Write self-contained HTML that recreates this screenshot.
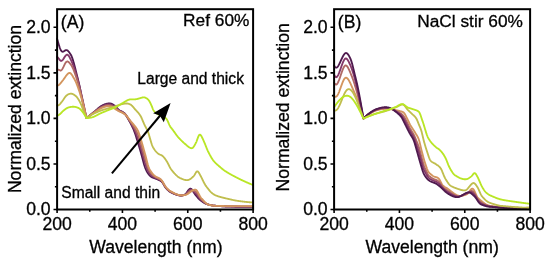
<!DOCTYPE html><html><head><meta charset="utf-8"><style>html,body{margin:0;padding:0;background:#fff;width:550px;height:262px;overflow:hidden}svg{display:block;will-change:transform}text{font-family:"Liberation Sans",sans-serif;fill:#000;stroke:#000;stroke-width:0.3}</style></head><body>
<svg width="550" height="262" viewBox="0 0 550 262">
<g fill="none" stroke-width="1.85" stroke-linejoin="round" stroke-linecap="round">
<path stroke="#4f1a4e" d="M57.10,38.69 L57.43,39.96 L57.75,41.11 L58.08,42.24 L58.41,43.34 L58.73,44.42 L59.06,45.48 L59.39,46.51 L59.71,47.50 L60.04,48.42 L60.37,49.21 L60.69,49.88 L61.02,50.42 L61.35,50.86 L61.67,51.21 L62.00,51.48 L62.33,51.66 L62.65,51.73 L62.98,51.70 L63.31,51.61 L63.63,51.45 L63.96,51.26 L64.29,51.04 L64.61,50.82 L64.94,50.60 L65.27,50.41 L65.59,50.25 L65.92,50.15 L66.25,50.11 L66.57,50.13 L66.90,50.22 L67.23,50.37 L67.55,50.58 L67.88,50.84 L68.21,51.15 L68.53,51.50 L68.86,51.88 L69.19,52.29 L69.51,52.73 L69.84,53.19 L70.17,53.66 L70.49,54.16 L70.82,54.69 L71.15,55.30 L71.47,55.98 L71.80,56.77 L72.13,57.64 L72.45,58.58 L72.78,59.57 L73.11,60.61 L73.43,61.68 L73.76,62.80 L74.09,63.96 L74.41,65.17 L74.74,66.43 L75.07,67.74 L75.39,69.07 L75.72,70.41 L76.05,71.74 L76.37,73.07 L76.70,74.38 L77.03,75.67 L77.35,76.96 L77.68,78.25 L78.01,79.55 L78.33,80.87 L78.66,82.22 L78.99,83.61 L79.31,85.05 L79.64,86.55 L79.97,88.11 L80.29,89.74 L80.62,91.40 L80.95,93.09 L81.27,94.77 L81.60,96.44 L81.93,98.09 L82.25,99.71 L82.58,101.31 L82.91,102.90 L83.23,104.47 L83.56,106.00 L83.89,107.50 L84.21,108.95 L84.54,110.36 L84.87,111.74 L85.19,113.08 L85.52,114.38 L85.85,115.64 L86.17,116.84 L86.50,118.07 L86.83,117.79 L87.15,117.53 L87.48,117.27 L87.81,117.01 L88.13,116.74 L88.46,116.47 L88.79,116.21 L89.11,115.94 L89.44,115.68 L89.77,115.41 L90.09,115.15 L90.42,114.88 L90.75,114.62 L91.07,114.35 L91.40,114.09 L91.73,113.82 L92.05,113.56 L92.38,113.29 L92.71,113.03 L93.03,112.76 L93.36,112.50 L93.69,112.23 L94.01,111.97 L94.34,111.70 L94.67,111.43 L94.99,111.16 L95.32,110.88 L95.65,110.59 L95.97,110.31 L96.30,110.02 L96.63,109.73 L96.95,109.44 L97.28,109.16 L97.61,108.87 L97.93,108.58 L98.26,108.30 L98.59,108.03 L98.91,107.76 L99.24,107.49 L99.57,107.24 L99.89,106.99 L100.22,106.75 L100.55,106.52 L100.87,106.30 L101.20,106.09 L101.53,105.89 L101.85,105.71 L102.18,105.53 L102.51,105.36 L102.83,105.20 L103.16,105.04 L103.49,104.89 L103.81,104.75 L104.14,104.61 L104.47,104.48 L104.79,104.35 L105.12,104.23 L105.45,104.12 L105.77,104.02 L106.10,103.92 L106.43,103.84 L106.75,103.76 L107.08,103.69 L107.41,103.63 L107.73,103.57 L108.06,103.53 L108.39,103.49 L108.71,103.47 L109.04,103.45 L109.37,103.45 L109.69,103.45 L110.02,103.47 L110.35,103.51 L110.67,103.56 L111.00,103.64 L111.33,103.74 L111.65,103.86 L111.98,104.00 L112.31,104.16 L112.63,104.33 L112.96,104.52 L113.29,104.72 L113.61,104.93 L113.94,105.15 L114.27,105.37 L114.59,105.61 L114.92,105.86 L115.25,106.13 L115.57,106.43 L115.90,106.75 L116.23,107.09 L116.55,107.45 L116.88,107.81 L117.21,108.18 L117.53,108.54 L117.86,108.88 L118.19,109.21 L118.51,109.52 L118.84,109.80 L119.17,110.05 L119.49,110.28 L119.82,110.50 L120.15,110.69 L120.47,110.87 L120.80,111.04 L121.13,111.20 L121.45,111.36 L121.78,111.52 L122.11,111.68 L122.43,111.85 L122.76,112.03 L123.09,112.23 L123.41,112.44 L123.74,112.67 L124.07,112.92 L124.39,113.21 L124.72,113.52 L125.05,113.88 L125.37,114.28 L125.70,114.72 L126.03,115.20 L126.35,115.71 L126.68,116.24 L127.01,116.80 L127.33,117.38 L127.66,117.98 L127.99,118.58 L128.31,119.18 L128.64,119.78 L128.97,120.38 L129.29,120.97 L129.62,121.56 L129.95,122.16 L130.27,122.75 L130.60,123.36 L130.93,123.98 L131.25,124.60 L131.58,125.25 L131.91,125.90 L132.23,126.58 L132.56,127.27 L132.89,127.98 L133.21,128.71 L133.54,129.46 L133.87,130.25 L134.19,131.08 L134.52,131.95 L134.85,132.87 L135.17,133.82 L135.50,134.80 L135.83,135.81 L136.15,136.84 L136.48,137.89 L136.81,138.94 L137.13,140.00 L137.46,141.06 L137.79,142.12 L138.11,143.19 L138.44,144.27 L138.77,145.37 L139.09,146.47 L139.42,147.58 L139.75,148.70 L140.07,149.83 L140.40,150.96 L140.73,152.10 L141.05,153.23 L141.38,154.38 L141.71,155.55 L142.03,156.75 L142.36,157.99 L142.69,159.24 L143.01,160.50 L143.34,161.76 L143.67,162.98 L143.99,164.17 L144.32,165.29 L144.65,166.33 L144.97,167.29 L145.30,168.16 L145.63,168.95 L145.95,169.68 L146.28,170.37 L146.61,171.01 L146.93,171.62 L147.26,172.19 L147.59,172.73 L147.91,173.23 L148.24,173.69 L148.57,174.12 L148.89,174.53 L149.22,174.91 L149.55,175.28 L149.87,175.63 L150.20,175.97 L150.53,176.28 L150.85,176.56 L151.18,176.80 L151.51,177.01 L151.83,177.19 L152.16,177.35 L152.49,177.49 L152.81,177.63 L153.14,177.76 L153.47,177.88 L153.79,178.00 L154.12,178.12 L154.45,178.24 L154.77,178.36 L155.10,178.48 L155.43,178.60 L155.75,178.72 L156.08,178.84 L156.41,178.97 L156.73,179.11 L157.06,179.24 L157.39,179.38 L157.71,179.51 L158.04,179.65 L158.37,179.79 L158.69,179.93 L159.02,180.07 L159.35,180.22 L159.67,180.38 L160.00,180.55 L160.33,180.73 L160.65,180.92 L160.98,181.13 L161.31,181.37 L161.63,181.66 L161.96,181.99 L162.29,182.39 L162.61,182.83 L162.94,183.33 L163.27,183.85 L163.59,184.41 L163.92,184.97 L164.25,185.53 L164.57,186.09 L164.90,186.62 L165.23,187.13 L165.55,187.59 L165.88,188.01 L166.21,188.39 L166.53,188.75 L166.86,189.10 L167.19,189.43 L167.51,189.76 L167.84,190.07 L168.17,190.37 L168.49,190.66 L168.82,190.94 L169.15,191.20 L169.47,191.44 L169.80,191.67 L170.13,191.88 L170.45,192.07 L170.78,192.26 L171.11,192.43 L171.43,192.61 L171.76,192.77 L172.09,192.94 L172.41,193.10 L172.74,193.26 L173.07,193.41 L173.39,193.56 L173.72,193.71 L174.05,193.85 L174.37,193.99 L174.70,194.12 L175.03,194.24 L175.35,194.36 L175.68,194.47 L176.01,194.58 L176.33,194.68 L176.66,194.78 L176.99,194.88 L177.31,194.97 L177.64,195.06 L177.97,195.14 L178.29,195.22 L178.62,195.30 L178.95,195.38 L179.27,195.44 L179.60,195.50 L179.93,195.55 L180.25,195.60 L180.58,195.62 L180.91,195.64 L181.23,195.63 L181.56,195.60 L181.89,195.54 L182.21,195.48 L182.54,195.39 L182.87,195.30 L183.19,195.19 L183.52,195.08 L183.85,194.97 L184.17,194.84 L184.50,194.70 L184.83,194.52 L185.15,194.29 L185.48,194.00 L185.81,193.67 L186.13,193.29 L186.46,192.87 L186.79,192.44 L187.11,191.98 L187.44,191.52 L187.77,191.06 L188.09,190.61 L188.42,190.19 L188.75,189.80 L189.07,189.45 L189.40,189.16 L189.73,188.92 L190.05,188.76 L190.38,188.68 L190.71,188.69 L191.03,188.79 L191.36,189.00 L191.69,189.31 L192.01,189.69 L192.34,190.14 L192.67,190.64 L192.99,191.17 L193.32,191.73 L193.65,192.28 L193.97,192.82 L194.30,193.33 L194.63,193.81 L194.95,194.25 L195.28,194.66 L195.61,195.06 L195.93,195.45 L196.26,195.85 L196.59,196.24 L196.91,196.63 L197.24,197.02 L197.57,197.40 L197.89,197.78 L198.22,198.14 L198.55,198.50 L198.87,198.85 L199.20,199.18 L199.53,199.50 L199.85,199.81 L200.18,200.10 L200.51,200.37 L200.83,200.62 L201.16,200.87 L201.49,201.10 L201.81,201.33 L202.14,201.56 L202.47,201.78 L202.79,202.00 L203.12,202.22 L203.45,202.42 L203.77,202.62 L204.10,202.82 L204.43,203.00 L204.75,203.18 L205.08,203.35 L205.41,203.51 L205.73,203.66 L206.06,203.80 L206.39,203.93 L206.71,204.05 L207.04,204.16 L207.37,204.26 L207.69,204.35 L208.02,204.44 L208.35,204.52 L208.67,204.61 L209.00,204.69 L209.33,204.78 L209.65,204.86 L209.98,204.94 L210.31,205.01 L210.63,205.09 L210.96,205.16 L211.29,205.23 L211.61,205.29 L211.94,205.35 L212.27,205.41 L212.59,205.46 L212.92,205.51 L213.25,205.55 L213.57,205.59 L213.90,205.62 L214.23,205.65 L214.55,205.68 L214.88,205.71 L215.21,205.74 L215.53,205.77 L215.86,205.80 L216.19,205.82 L216.51,205.85 L216.84,205.88 L217.17,205.91 L217.49,205.94 L217.82,205.97 L218.15,205.99 L218.47,206.02 L218.80,206.05 L219.13,206.08 L219.45,206.10 L219.78,206.13 L220.11,206.15 L220.43,206.18 L220.76,206.20 L221.09,206.23 L221.41,206.25 L221.74,206.28 L222.07,206.30 L222.39,206.32 L222.72,206.34 L223.05,206.36 L223.37,206.38 L223.70,206.40 L224.03,206.42 L224.35,206.43 L224.68,206.45 L225.01,206.46 L225.33,206.48 L225.66,206.49 L225.99,206.50 L226.31,206.51 L226.64,206.52 L226.97,206.53 L227.29,206.54 L227.62,206.55 L227.95,206.55 L228.27,206.56 L228.60,206.57 L228.93,206.58 L229.25,206.58 L229.58,206.59 L229.91,206.60 L230.23,206.61 L230.56,206.61 L230.89,206.62 L231.21,206.63 L231.54,206.64 L231.87,206.64 L232.19,206.65 L232.52,206.66 L232.85,206.66 L233.17,206.67 L233.50,206.68 L233.83,206.68 L234.15,206.69 L234.48,206.70 L234.81,206.70 L235.13,206.71 L235.46,206.72 L235.79,206.72 L236.11,206.73 L236.44,206.73 L236.77,206.74 L237.09,206.75 L237.42,206.75 L237.75,206.76 L238.07,206.76 L238.40,206.77 L238.73,206.77 L239.05,206.78 L239.38,206.78 L239.71,206.79 L240.03,206.79 L240.36,206.80 L240.69,206.80 L241.01,206.80 L241.34,206.81 L241.67,206.81 L241.99,206.81 L242.32,206.82 L242.65,206.82 L242.97,206.82 L243.30,206.83 L243.63,206.83 L243.95,206.83 L244.28,206.83 L244.61,206.84 L244.93,206.84 L245.26,206.84 L245.59,206.84 L245.91,206.84 L246.24,206.84 L246.57,206.84 L246.89,206.84 L247.22,206.84 L247.55,206.84 L247.87,206.84 L248.20,206.84 L248.53,206.84 L248.85,206.84 L249.18,206.84 L249.51,206.84 L249.83,206.84 L250.16,206.83 L250.49,206.83 L250.81,206.83 L251.14,206.83 L251.47,206.82 L251.79,206.82 L252.12,206.82 L252.45,206.81 L252.77,206.81 L253.10,206.80"/>
<path stroke="#85386a" d="M57.10,56.83 L57.43,57.17 L57.75,57.50 L58.08,57.85 L58.41,58.22 L58.73,58.63 L59.06,59.05 L59.39,59.48 L59.71,59.89 L60.04,60.27 L60.37,60.57 L60.69,60.78 L61.02,60.89 L61.35,60.89 L61.67,60.78 L62.00,60.58 L62.33,60.30 L62.65,59.95 L62.98,59.55 L63.31,59.10 L63.63,58.62 L63.96,58.12 L64.29,57.61 L64.61,57.10 L64.94,56.62 L65.27,56.16 L65.59,55.74 L65.92,55.37 L66.25,55.07 L66.57,54.85 L66.90,54.72 L67.23,54.69 L67.55,54.77 L67.88,54.95 L68.21,55.24 L68.53,55.61 L68.86,56.07 L69.19,56.59 L69.51,57.17 L69.84,57.78 L70.17,58.43 L70.49,59.08 L70.82,59.75 L71.15,60.41 L71.47,61.09 L71.80,61.78 L72.13,62.51 L72.45,63.28 L72.78,64.09 L73.11,64.93 L73.43,65.81 L73.76,66.72 L74.09,67.66 L74.41,68.63 L74.74,69.62 L75.07,70.63 L75.39,71.65 L75.72,72.70 L76.05,73.77 L76.37,74.86 L76.70,75.98 L77.03,77.12 L77.35,78.28 L77.68,79.47 L78.01,80.69 L78.33,81.93 L78.66,83.19 L78.99,84.47 L79.31,85.77 L79.64,87.09 L79.97,88.43 L80.29,89.79 L80.62,91.16 L80.95,92.56 L81.27,93.97 L81.60,95.39 L81.93,96.83 L82.25,98.28 L82.58,99.75 L82.91,101.22 L83.23,102.71 L83.56,104.21 L83.89,105.72 L84.21,107.24 L84.54,108.77 L84.87,110.31 L85.19,111.85 L85.52,113.39 L85.85,114.91 L86.17,116.44 L86.50,118.07 L86.83,117.80 L87.15,117.55 L87.48,117.29 L87.81,117.04 L88.13,116.78 L88.46,116.52 L88.79,116.27 L89.11,116.01 L89.44,115.76 L89.77,115.50 L90.09,115.25 L90.42,114.99 L90.75,114.74 L91.07,114.49 L91.40,114.23 L91.73,113.98 L92.05,113.73 L92.38,113.48 L92.71,113.23 L93.03,112.98 L93.36,112.73 L93.69,112.48 L94.01,112.23 L94.34,111.98 L94.67,111.73 L94.99,111.47 L95.32,111.21 L95.65,110.95 L95.97,110.68 L96.30,110.42 L96.63,110.15 L96.95,109.88 L97.28,109.62 L97.61,109.36 L97.93,109.10 L98.26,108.84 L98.59,108.59 L98.91,108.34 L99.24,108.10 L99.57,107.86 L99.89,107.63 L100.22,107.41 L100.55,107.20 L100.87,107.00 L101.20,106.81 L101.53,106.63 L101.85,106.46 L102.18,106.29 L102.51,106.14 L102.83,105.98 L103.16,105.84 L103.49,105.69 L103.81,105.56 L104.14,105.42 L104.47,105.30 L104.79,105.18 L105.12,105.07 L105.45,104.97 L105.77,104.87 L106.10,104.78 L106.43,104.70 L106.75,104.63 L107.08,104.56 L107.41,104.51 L107.73,104.46 L108.06,104.43 L108.39,104.41 L108.71,104.39 L109.04,104.39 L109.37,104.40 L109.69,104.42 L110.02,104.45 L110.35,104.50 L110.67,104.57 L111.00,104.66 L111.33,104.76 L111.65,104.89 L111.98,105.03 L112.31,105.19 L112.63,105.36 L112.96,105.54 L113.29,105.74 L113.61,105.94 L113.94,106.15 L114.27,106.37 L114.59,106.60 L114.92,106.83 L115.25,107.09 L115.57,107.36 L115.90,107.64 L116.23,107.94 L116.55,108.25 L116.88,108.56 L117.21,108.87 L117.53,109.17 L117.86,109.47 L118.19,109.75 L118.51,110.01 L118.84,110.26 L119.17,110.48 L119.49,110.69 L119.82,110.88 L120.15,111.06 L120.47,111.23 L120.80,111.39 L121.13,111.54 L121.45,111.70 L121.78,111.85 L122.11,112.01 L122.43,112.17 L122.76,112.34 L123.09,112.53 L123.41,112.72 L123.74,112.94 L124.07,113.18 L124.39,113.44 L124.72,113.72 L125.05,114.05 L125.37,114.40 L125.70,114.80 L126.03,115.22 L126.35,115.68 L126.68,116.16 L127.01,116.66 L127.33,117.18 L127.66,117.71 L127.99,118.25 L128.31,118.80 L128.64,119.34 L128.97,119.89 L129.29,120.43 L129.62,120.96 L129.95,121.50 L130.27,122.04 L130.60,122.58 L130.93,123.12 L131.25,123.67 L131.58,124.23 L131.91,124.80 L132.23,125.37 L132.56,125.96 L132.89,126.56 L133.21,127.17 L133.54,127.81 L133.87,128.46 L134.19,129.15 L134.52,129.86 L134.85,130.61 L135.17,131.39 L135.50,132.19 L135.83,133.02 L136.15,133.86 L136.48,134.72 L136.81,135.59 L137.13,136.48 L137.46,137.37 L137.79,138.29 L138.11,139.23 L138.44,140.21 L138.77,141.22 L139.09,142.26 L139.42,143.32 L139.75,144.41 L140.07,145.51 L140.40,146.62 L140.73,147.74 L141.05,148.86 L141.38,149.98 L141.71,151.13 L142.03,152.29 L142.36,153.48 L142.69,154.70 L143.01,155.92 L143.34,157.14 L143.67,158.35 L143.99,159.53 L144.32,160.67 L144.65,161.76 L144.97,162.79 L145.30,163.76 L145.63,164.70 L145.95,165.60 L146.28,166.48 L146.61,167.34 L146.93,168.18 L147.26,168.98 L147.59,169.74 L147.91,170.45 L148.24,171.11 L148.57,171.72 L148.89,172.27 L149.22,172.77 L149.55,173.23 L149.87,173.67 L150.20,174.09 L150.53,174.47 L150.85,174.83 L151.18,175.15 L151.51,175.44 L151.83,175.70 L152.16,175.94 L152.49,176.17 L152.81,176.38 L153.14,176.58 L153.47,176.78 L153.79,176.96 L154.12,177.15 L154.45,177.32 L154.77,177.49 L155.10,177.66 L155.43,177.82 L155.75,177.97 L156.08,178.12 L156.41,178.27 L156.73,178.42 L157.06,178.56 L157.39,178.71 L157.71,178.85 L158.04,178.99 L158.37,179.14 L158.69,179.29 L159.02,179.44 L159.35,179.60 L159.67,179.77 L160.00,179.96 L160.33,180.16 L160.65,180.37 L160.98,180.61 L161.31,180.88 L161.63,181.19 L161.96,181.55 L162.29,181.97 L162.61,182.44 L162.94,182.94 L163.27,183.49 L163.59,184.05 L163.92,184.62 L164.25,185.19 L164.57,185.75 L164.90,186.29 L165.23,186.79 L165.55,187.25 L165.88,187.67 L166.21,188.06 L166.53,188.42 L166.86,188.77 L167.19,189.10 L167.51,189.43 L167.84,189.75 L168.17,190.05 L168.49,190.34 L168.82,190.61 L169.15,190.88 L169.47,191.12 L169.80,191.35 L170.13,191.56 L170.45,191.75 L170.78,191.94 L171.11,192.11 L171.43,192.29 L171.76,192.46 L172.09,192.63 L172.41,192.80 L172.74,192.96 L173.07,193.12 L173.39,193.28 L173.72,193.44 L174.05,193.59 L174.37,193.73 L174.70,193.87 L175.03,194.01 L175.35,194.14 L175.68,194.26 L176.01,194.38 L176.33,194.50 L176.66,194.61 L176.99,194.71 L177.31,194.81 L177.64,194.91 L177.97,195.00 L178.29,195.09 L178.62,195.17 L178.95,195.25 L179.27,195.32 L179.60,195.38 L179.93,195.43 L180.25,195.47 L180.58,195.50 L180.91,195.52 L181.23,195.52 L181.56,195.50 L181.89,195.47 L182.21,195.42 L182.54,195.36 L182.87,195.29 L183.19,195.21 L183.52,195.12 L183.85,195.04 L184.17,194.94 L184.50,194.83 L184.83,194.69 L185.15,194.52 L185.48,194.31 L185.81,194.05 L186.13,193.76 L186.46,193.44 L186.79,193.10 L187.11,192.74 L187.44,192.37 L187.77,191.99 L188.09,191.62 L188.42,191.27 L188.75,190.93 L189.07,190.62 L189.40,190.33 L189.73,190.09 L190.05,189.90 L190.38,189.76 L190.71,189.69 L191.03,189.68 L191.36,189.74 L191.69,189.87 L192.01,190.05 L192.34,190.29 L192.67,190.56 L192.99,190.86 L193.32,191.18 L193.65,191.50 L193.97,191.82 L194.30,192.14 L194.63,192.43 L194.95,192.72 L195.28,192.99 L195.61,193.28 L195.93,193.59 L196.26,193.92 L196.59,194.29 L196.91,194.68 L197.24,195.09 L197.57,195.51 L197.89,195.95 L198.22,196.39 L198.55,196.84 L198.87,197.28 L199.20,197.71 L199.53,198.14 L199.85,198.54 L200.18,198.92 L200.51,199.28 L200.83,199.61 L201.16,199.91 L201.49,200.20 L201.81,200.48 L202.14,200.75 L202.47,201.02 L202.79,201.29 L203.12,201.55 L203.45,201.81 L203.77,202.06 L204.10,202.30 L204.43,202.54 L204.75,202.77 L205.08,202.99 L205.41,203.20 L205.73,203.40 L206.06,203.59 L206.39,203.76 L206.71,203.92 L207.04,204.07 L207.37,204.21 L207.69,204.33 L208.02,204.45 L208.35,204.55 L208.67,204.65 L209.00,204.74 L209.33,204.82 L209.65,204.90 L209.98,204.98 L210.31,205.06 L210.63,205.13 L210.96,205.20 L211.29,205.27 L211.61,205.33 L211.94,205.39 L212.27,205.45 L212.59,205.50 L212.92,205.55 L213.25,205.59 L213.57,205.63 L213.90,205.66 L214.23,205.69 L214.55,205.71 L214.88,205.74 L215.21,205.76 L215.53,205.78 L215.86,205.81 L216.19,205.83 L216.51,205.85 L216.84,205.87 L217.17,205.90 L217.49,205.92 L217.82,205.94 L218.15,205.96 L218.47,205.98 L218.80,206.00 L219.13,206.03 L219.45,206.05 L219.78,206.07 L220.11,206.09 L220.43,206.11 L220.76,206.13 L221.09,206.15 L221.41,206.17 L221.74,206.18 L222.07,206.20 L222.39,206.22 L222.72,206.23 L223.05,206.25 L223.37,206.27 L223.70,206.28 L224.03,206.29 L224.35,206.31 L224.68,206.32 L225.01,206.33 L225.33,206.34 L225.66,206.35 L225.99,206.36 L226.31,206.37 L226.64,206.38 L226.97,206.38 L227.29,206.39 L227.62,206.39 L227.95,206.40 L228.27,206.40 L228.60,206.41 L228.93,206.41 L229.25,206.42 L229.58,206.43 L229.91,206.43 L230.23,206.44 L230.56,206.44 L230.89,206.45 L231.21,206.45 L231.54,206.46 L231.87,206.46 L232.19,206.47 L232.52,206.47 L232.85,206.48 L233.17,206.48 L233.50,206.49 L233.83,206.49 L234.15,206.50 L234.48,206.50 L234.81,206.51 L235.13,206.51 L235.46,206.51 L235.79,206.52 L236.11,206.52 L236.44,206.53 L236.77,206.53 L237.09,206.54 L237.42,206.54 L237.75,206.54 L238.07,206.55 L238.40,206.55 L238.73,206.55 L239.05,206.56 L239.38,206.56 L239.71,206.56 L240.03,206.57 L240.36,206.57 L240.69,206.57 L241.01,206.58 L241.34,206.58 L241.67,206.58 L241.99,206.58 L242.32,206.59 L242.65,206.59 L242.97,206.59 L243.30,206.59 L243.63,206.59 L243.95,206.60 L244.28,206.60 L244.61,206.60 L244.93,206.60 L245.26,206.60 L245.59,206.60 L245.91,206.60 L246.24,206.60 L246.57,206.60 L246.89,206.60 L247.22,206.60 L247.55,206.60 L247.87,206.60 L248.20,206.60 L248.53,206.60 L248.85,206.60 L249.18,206.60 L249.51,206.60 L249.83,206.59 L250.16,206.59 L250.49,206.59 L250.81,206.59 L251.14,206.58 L251.47,206.58 L251.79,206.58 L252.12,206.58 L252.45,206.57 L252.77,206.57 L253.10,206.56"/>
<path stroke="#b06a66" d="M57.10,69.53 L57.43,69.56 L57.75,69.62 L58.08,69.68 L58.41,69.76 L58.73,69.85 L59.06,69.97 L59.39,70.11 L59.71,70.26 L60.04,70.40 L60.37,70.49 L60.69,70.50 L61.02,70.41 L61.35,70.21 L61.67,69.91 L62.00,69.51 L62.33,69.03 L62.65,68.48 L62.98,67.87 L63.31,67.23 L63.63,66.55 L63.96,65.87 L64.29,65.19 L64.61,64.53 L64.94,63.91 L65.27,63.33 L65.59,62.81 L65.92,62.36 L66.25,62.00 L66.57,61.74 L66.90,61.58 L67.23,61.50 L67.55,61.51 L67.88,61.60 L68.21,61.76 L68.53,61.98 L68.86,62.25 L69.19,62.56 L69.51,62.92 L69.84,63.31 L70.17,63.72 L70.49,64.15 L70.82,64.60 L71.15,65.07 L71.47,65.56 L71.80,66.09 L72.13,66.67 L72.45,67.31 L72.78,68.00 L73.11,68.74 L73.43,69.52 L73.76,70.34 L74.09,71.20 L74.41,72.08 L74.74,72.99 L75.07,73.91 L75.39,74.85 L75.72,75.80 L76.05,76.77 L76.37,77.76 L76.70,78.78 L77.03,79.82 L77.35,80.89 L77.68,81.98 L78.01,83.10 L78.33,84.24 L78.66,85.40 L78.99,86.59 L79.31,87.79 L79.64,89.02 L79.97,90.27 L80.29,91.53 L80.62,92.82 L80.95,94.12 L81.27,95.43 L81.60,96.76 L81.93,98.11 L82.25,99.47 L82.58,100.85 L82.91,102.23 L83.23,103.63 L83.56,105.04 L83.89,106.46 L84.21,107.89 L84.54,109.32 L84.87,110.77 L85.19,112.22 L85.52,113.67 L85.85,115.10 L86.17,116.53 L86.50,118.07 L86.83,117.81 L87.15,117.56 L87.48,117.32 L87.81,117.07 L88.13,116.82 L88.46,116.57 L88.79,116.33 L89.11,116.08 L89.44,115.84 L89.77,115.59 L90.09,115.35 L90.42,115.10 L90.75,114.86 L91.07,114.62 L91.40,114.38 L91.73,114.14 L92.05,113.90 L92.38,113.66 L92.71,113.43 L93.03,113.19 L93.36,112.96 L93.69,112.72 L94.01,112.49 L94.34,112.26 L94.67,112.02 L94.99,111.78 L95.32,111.54 L95.65,111.30 L95.97,111.06 L96.30,110.81 L96.63,110.57 L96.95,110.33 L97.28,110.08 L97.61,109.84 L97.93,109.61 L98.26,109.37 L98.59,109.14 L98.91,108.92 L99.24,108.70 L99.57,108.49 L99.89,108.28 L100.22,108.08 L100.55,107.89 L100.87,107.70 L101.20,107.53 L101.53,107.36 L101.85,107.21 L102.18,107.06 L102.51,106.91 L102.83,106.77 L103.16,106.63 L103.49,106.50 L103.81,106.37 L104.14,106.24 L104.47,106.12 L104.79,106.01 L105.12,105.91 L105.45,105.81 L105.77,105.72 L106.10,105.64 L106.43,105.56 L106.75,105.50 L107.08,105.44 L107.41,105.39 L107.73,105.36 L108.06,105.33 L108.39,105.32 L108.71,105.31 L109.04,105.32 L109.37,105.35 L109.69,105.38 L110.02,105.43 L110.35,105.49 L110.67,105.58 L111.00,105.67 L111.33,105.79 L111.65,105.92 L111.98,106.06 L112.31,106.22 L112.63,106.39 L112.96,106.57 L113.29,106.76 L113.61,106.96 L113.94,107.16 L114.27,107.37 L114.59,107.59 L114.92,107.81 L115.25,108.04 L115.57,108.28 L115.90,108.53 L116.23,108.78 L116.55,109.04 L116.88,109.30 L117.21,109.56 L117.53,109.81 L117.86,110.06 L118.19,110.29 L118.51,110.51 L118.84,110.72 L119.17,110.91 L119.49,111.10 L119.82,111.27 L120.15,111.43 L120.47,111.58 L120.80,111.74 L121.13,111.88 L121.45,112.03 L121.78,112.18 L122.11,112.33 L122.43,112.49 L122.76,112.65 L123.09,112.83 L123.41,113.01 L123.74,113.21 L124.07,113.43 L124.39,113.66 L124.72,113.92 L125.05,114.21 L125.37,114.53 L125.70,114.87 L126.03,115.25 L126.35,115.65 L126.68,116.08 L127.01,116.52 L127.33,116.98 L127.66,117.45 L127.99,117.93 L128.31,118.42 L128.64,118.91 L128.97,119.39 L129.29,119.88 L129.62,120.37 L129.95,120.85 L130.27,121.32 L130.60,121.80 L130.93,122.27 L131.25,122.75 L131.58,123.22 L131.91,123.69 L132.23,124.17 L132.56,124.65 L132.89,125.14 L133.21,125.64 L133.54,126.15 L133.87,126.67 L134.19,127.21 L134.52,127.78 L134.85,128.36 L135.17,128.96 L135.50,129.58 L135.83,130.22 L136.15,130.88 L136.48,131.55 L136.81,132.24 L137.13,132.95 L137.46,133.68 L137.79,134.45 L138.11,135.27 L138.44,136.14 L138.77,137.07 L139.09,138.04 L139.42,139.06 L139.75,140.11 L140.07,141.19 L140.40,142.28 L140.73,143.38 L141.05,144.48 L141.38,145.58 L141.71,146.70 L142.03,147.83 L142.36,148.98 L142.69,150.15 L143.01,151.34 L143.34,152.53 L143.67,153.72 L143.99,154.90 L144.32,156.06 L144.65,157.19 L144.97,158.29 L145.30,159.37 L145.63,160.44 L145.95,161.52 L146.28,162.59 L146.61,163.67 L146.93,164.73 L147.26,165.76 L147.59,166.75 L147.91,167.68 L148.24,168.54 L148.57,169.32 L148.89,170.01 L149.22,170.63 L149.55,171.19 L149.87,171.71 L150.20,172.20 L150.53,172.67 L150.85,173.10 L151.18,173.50 L151.51,173.87 L151.83,174.21 L152.16,174.54 L152.49,174.84 L152.81,175.13 L153.14,175.41 L153.47,175.67 L153.79,175.92 L154.12,176.17 L154.45,176.40 L154.77,176.62 L155.10,176.83 L155.43,177.04 L155.75,177.22 L156.08,177.40 L156.41,177.57 L156.73,177.73 L157.06,177.89 L157.39,178.04 L157.71,178.19 L158.04,178.34 L158.37,178.49 L158.69,178.65 L159.02,178.81 L159.35,178.98 L159.67,179.17 L160.00,179.37 L160.33,179.59 L160.65,179.83 L160.98,180.09 L161.31,180.39 L161.63,180.73 L161.96,181.11 L162.29,181.55 L162.61,182.04 L162.94,182.56 L163.27,183.12 L163.59,183.69 L163.92,184.27 L164.25,184.85 L164.57,185.41 L164.90,185.95 L165.23,186.45 L165.55,186.91 L165.88,187.33 L166.21,187.72 L166.53,188.09 L166.86,188.44 L167.19,188.78 L167.51,189.10 L167.84,189.42 L168.17,189.72 L168.49,190.01 L168.82,190.29 L169.15,190.55 L169.47,190.80 L169.80,191.02 L170.13,191.23 L170.45,191.43 L170.78,191.62 L171.11,191.80 L171.43,191.97 L171.76,192.15 L172.09,192.32 L172.41,192.50 L172.74,192.67 L173.07,192.83 L173.39,193.00 L173.72,193.16 L174.05,193.32 L174.37,193.48 L174.70,193.63 L175.03,193.77 L175.35,193.92 L175.68,194.05 L176.01,194.18 L176.33,194.31 L176.66,194.43 L176.99,194.55 L177.31,194.66 L177.64,194.76 L177.97,194.86 L178.29,194.95 L178.62,195.04 L178.95,195.12 L179.27,195.19 L179.60,195.25 L179.93,195.31 L180.25,195.35 L180.58,195.38 L180.91,195.40 L181.23,195.41 L181.56,195.41 L181.89,195.39 L182.21,195.36 L182.54,195.32 L182.87,195.28 L183.19,195.22 L183.52,195.17 L183.85,195.10 L184.17,195.04 L184.50,194.96 L184.83,194.87 L185.15,194.75 L185.48,194.61 L185.81,194.44 L186.13,194.24 L186.46,194.01 L186.79,193.76 L187.11,193.50 L187.44,193.22 L187.77,192.93 L188.09,192.63 L188.42,192.34 L188.75,192.05 L189.07,191.78 L189.40,191.51 L189.73,191.27 L190.05,191.05 L190.38,190.85 L190.71,190.69 L191.03,190.57 L191.36,190.48 L191.69,190.43 L192.01,190.42 L192.34,190.43 L192.67,190.48 L192.99,190.54 L193.32,190.62 L193.65,190.72 L193.97,190.83 L194.30,190.94 L194.63,191.06 L194.95,191.18 L195.28,191.33 L195.61,191.50 L195.93,191.72 L196.26,192.00 L196.59,192.34 L196.91,192.72 L197.24,193.15 L197.57,193.62 L197.89,194.12 L198.22,194.64 L198.55,195.17 L198.87,195.71 L199.20,196.25 L199.53,196.77 L199.85,197.27 L200.18,197.75 L200.51,198.19 L200.83,198.60 L201.16,198.96 L201.49,199.30 L201.81,199.63 L202.14,199.95 L202.47,200.26 L202.79,200.57 L203.12,200.88 L203.45,201.19 L203.77,201.49 L204.10,201.79 L204.43,202.08 L204.75,202.36 L205.08,202.63 L205.41,202.89 L205.73,203.14 L206.06,203.37 L206.39,203.59 L206.71,203.80 L207.04,203.99 L207.37,204.16 L207.69,204.31 L208.02,204.45 L208.35,204.58 L208.67,204.68 L209.00,204.78 L209.33,204.86 L209.65,204.94 L209.98,205.02 L210.31,205.10 L210.63,205.17 L210.96,205.24 L211.29,205.30 L211.61,205.37 L211.94,205.43 L212.27,205.48 L212.59,205.54 L212.92,205.58 L213.25,205.63 L213.57,205.66 L213.90,205.70 L214.23,205.72 L214.55,205.75 L214.88,205.77 L215.21,205.79 L215.53,205.80 L215.86,205.82 L216.19,205.83 L216.51,205.85 L216.84,205.87 L217.17,205.88 L217.49,205.90 L217.82,205.91 L218.15,205.93 L218.47,205.95 L218.80,205.96 L219.13,205.98 L219.45,205.99 L219.78,206.01 L220.11,206.02 L220.43,206.04 L220.76,206.05 L221.09,206.06 L221.41,206.08 L221.74,206.09 L222.07,206.10 L222.39,206.12 L222.72,206.13 L223.05,206.14 L223.37,206.15 L223.70,206.16 L224.03,206.17 L224.35,206.18 L224.68,206.19 L225.01,206.20 L225.33,206.21 L225.66,206.21 L225.99,206.22 L226.31,206.22 L226.64,206.23 L226.97,206.23 L227.29,206.24 L227.62,206.24 L227.95,206.24 L228.27,206.25 L228.60,206.25 L228.93,206.25 L229.25,206.26 L229.58,206.26 L229.91,206.26 L230.23,206.26 L230.56,206.27 L230.89,206.27 L231.21,206.27 L231.54,206.28 L231.87,206.28 L232.19,206.28 L232.52,206.29 L232.85,206.29 L233.17,206.29 L233.50,206.30 L233.83,206.30 L234.15,206.30 L234.48,206.30 L234.81,206.31 L235.13,206.31 L235.46,206.31 L235.79,206.32 L236.11,206.32 L236.44,206.32 L236.77,206.32 L237.09,206.33 L237.42,206.33 L237.75,206.33 L238.07,206.33 L238.40,206.34 L238.73,206.34 L239.05,206.34 L239.38,206.34 L239.71,206.34 L240.03,206.35 L240.36,206.35 L240.69,206.35 L241.01,206.35 L241.34,206.35 L241.67,206.35 L241.99,206.35 L242.32,206.36 L242.65,206.36 L242.97,206.36 L243.30,206.36 L243.63,206.36 L243.95,206.36 L244.28,206.36 L244.61,206.36 L244.93,206.36 L245.26,206.36 L245.59,206.36 L245.91,206.36 L246.24,206.36 L246.57,206.36 L246.89,206.36 L247.22,206.36 L247.55,206.36 L247.87,206.36 L248.20,206.36 L248.53,206.36 L248.85,206.36 L249.18,206.35 L249.51,206.35 L249.83,206.35 L250.16,206.35 L250.49,206.35 L250.81,206.34 L251.14,206.34 L251.47,206.34 L251.79,206.34 L252.12,206.33 L252.45,206.33 L252.77,206.33 L253.10,206.32"/>
<path stroke="#d3955e" d="M57.10,85.41 L57.43,85.46 L57.75,85.44 L58.08,85.37 L58.41,85.24 L58.73,85.05 L59.06,84.82 L59.39,84.54 L59.71,84.21 L60.04,83.86 L60.37,83.48 L60.69,83.08 L61.02,82.67 L61.35,82.26 L61.67,81.85 L62.00,81.45 L62.33,81.04 L62.65,80.63 L62.98,80.20 L63.31,79.76 L63.63,79.31 L63.96,78.85 L64.29,78.38 L64.61,77.91 L64.94,77.43 L65.27,76.97 L65.59,76.51 L65.92,76.05 L66.25,75.62 L66.57,75.20 L66.90,74.80 L67.23,74.42 L67.55,74.07 L67.88,73.75 L68.21,73.47 L68.53,73.23 L68.86,73.03 L69.19,72.91 L69.51,72.86 L69.84,72.91 L70.17,73.04 L70.49,73.26 L70.82,73.55 L71.15,73.90 L71.47,74.31 L71.80,74.77 L72.13,75.27 L72.45,75.80 L72.78,76.35 L73.11,76.91 L73.43,77.47 L73.76,78.03 L74.09,78.59 L74.41,79.16 L74.74,79.74 L75.07,80.36 L75.39,81.02 L75.72,81.73 L76.05,82.47 L76.37,83.25 L76.70,84.06 L77.03,84.90 L77.35,85.76 L77.68,86.65 L78.01,87.55 L78.33,88.47 L78.66,89.40 L78.99,90.35 L79.31,91.31 L79.64,92.31 L79.97,93.33 L80.29,94.38 L80.62,95.45 L80.95,96.55 L81.27,97.68 L81.60,98.83 L81.93,100.00 L82.25,101.19 L82.58,102.41 L82.91,103.64 L83.23,104.89 L83.56,106.15 L83.89,107.43 L84.21,108.73 L84.54,110.03 L84.87,111.35 L85.19,112.68 L85.52,114.01 L85.85,115.33 L86.17,116.65 L86.50,118.07 L86.83,117.82 L87.15,117.58 L87.48,117.34 L87.81,117.10 L88.13,116.86 L88.46,116.63 L88.79,116.39 L89.11,116.15 L89.44,115.92 L89.77,115.68 L90.09,115.45 L90.42,115.22 L90.75,114.99 L91.07,114.76 L91.40,114.53 L91.73,114.31 L92.05,114.08 L92.38,113.86 L92.71,113.63 L93.03,113.41 L93.36,113.19 L93.69,112.98 L94.01,112.76 L94.34,112.54 L94.67,112.32 L94.99,112.11 L95.32,111.89 L95.65,111.66 L95.97,111.44 L96.30,111.22 L96.63,111.00 L96.95,110.78 L97.28,110.56 L97.61,110.35 L97.93,110.13 L98.26,109.92 L98.59,109.72 L98.91,109.52 L99.24,109.32 L99.57,109.13 L99.89,108.94 L100.22,108.76 L100.55,108.59 L100.87,108.43 L101.20,108.27 L101.53,108.12 L101.85,107.98 L102.18,107.84 L102.51,107.71 L102.83,107.58 L103.16,107.45 L103.49,107.32 L103.81,107.20 L104.14,107.09 L104.47,106.97 L104.79,106.87 L105.12,106.77 L105.45,106.68 L105.77,106.59 L106.10,106.52 L106.43,106.45 L106.75,106.39 L107.08,106.34 L107.41,106.30 L107.73,106.27 L108.06,106.26 L108.39,106.26 L108.71,106.26 L109.04,106.29 L109.37,106.32 L109.69,106.37 L110.02,106.44 L110.35,106.52 L110.67,106.61 L111.00,106.72 L111.33,106.85 L111.65,106.98 L111.98,107.13 L112.31,107.29 L112.63,107.45 L112.96,107.63 L113.29,107.81 L113.61,108.00 L113.94,108.20 L114.27,108.40 L114.59,108.60 L114.92,108.81 L115.25,109.02 L115.57,109.23 L115.90,109.45 L116.23,109.66 L116.55,109.86 L116.88,110.07 L117.21,110.27 L117.53,110.47 L117.86,110.66 L118.19,110.85 L118.51,111.03 L118.84,111.20 L119.17,111.36 L119.49,111.52 L119.82,111.67 L120.15,111.81 L120.47,111.95 L120.80,112.09 L121.13,112.23 L121.45,112.37 L121.78,112.52 L122.11,112.66 L122.43,112.81 L122.76,112.97 L123.09,113.14 L123.41,113.31 L123.74,113.49 L124.07,113.69 L124.39,113.90 L124.72,114.13 L125.05,114.38 L125.37,114.65 L125.70,114.95 L126.03,115.28 L126.35,115.63 L126.68,115.99 L127.01,116.37 L127.33,116.77 L127.66,117.18 L127.99,117.60 L128.31,118.02 L128.64,118.45 L128.97,118.89 L129.29,119.32 L129.62,119.75 L129.95,120.17 L130.27,120.59 L130.60,121.00 L130.93,121.40 L131.25,121.79 L131.58,122.17 L131.91,122.55 L132.23,122.93 L132.56,123.31 L132.89,123.68 L133.21,124.06 L133.54,124.44 L133.87,124.83 L134.19,125.22 L134.52,125.62 L134.85,126.04 L135.17,126.46 L135.50,126.89 L135.83,127.34 L136.15,127.81 L136.48,128.29 L136.81,128.79 L137.13,129.32 L137.46,129.88 L137.79,130.50 L138.11,131.18 L138.44,131.95 L138.77,132.79 L139.09,133.70 L139.42,134.67 L139.75,135.69 L140.07,136.74 L140.40,137.81 L140.73,138.89 L141.05,139.97 L141.38,141.05 L141.71,142.14 L142.03,143.23 L142.36,144.34 L142.69,145.47 L143.01,146.62 L143.34,147.78 L143.67,148.95 L143.99,150.13 L144.32,151.30 L144.65,152.48 L144.97,153.66 L145.30,154.85 L145.63,156.06 L145.95,157.31 L146.28,158.59 L146.61,159.89 L146.93,161.18 L147.26,162.45 L147.59,163.67 L147.91,164.82 L148.24,165.88 L148.57,166.84 L148.89,167.68 L149.22,168.42 L149.55,169.09 L149.87,169.70 L150.20,170.27 L150.53,170.80 L150.85,171.31 L151.18,171.79 L151.51,172.25 L151.83,172.68 L152.16,173.09 L152.49,173.48 L152.81,173.85 L153.14,174.20 L153.47,174.53 L153.79,174.85 L154.12,175.16 L154.45,175.45 L154.77,175.73 L155.10,175.99 L155.43,176.23 L155.75,176.45 L156.08,176.66 L156.41,176.85 L156.73,177.02 L157.06,177.19 L157.39,177.35 L157.71,177.51 L158.04,177.66 L158.37,177.82 L158.69,177.99 L159.02,178.16 L159.35,178.34 L159.67,178.54 L160.00,178.76 L160.33,179.00 L160.65,179.26 L160.98,179.55 L161.31,179.88 L161.63,180.25 L161.96,180.66 L162.29,181.12 L162.61,181.63 L162.94,182.17 L163.27,182.74 L163.59,183.32 L163.92,183.91 L164.25,184.49 L164.57,185.06 L164.90,185.60 L165.23,186.10 L165.55,186.57 L165.88,186.99 L166.21,187.38 L166.53,187.74 L166.86,188.10 L167.19,188.44 L167.51,188.77 L167.84,189.08 L168.17,189.39 L168.49,189.68 L168.82,189.96 L169.15,190.22 L169.47,190.46 L169.80,190.69 L170.13,190.90 L170.45,191.10 L170.78,191.28 L171.11,191.47 L171.43,191.65 L171.76,191.83 L172.09,192.01 L172.41,192.18 L172.74,192.36 L173.07,192.54 L173.39,192.71 L173.72,192.88 L174.05,193.05 L174.37,193.21 L174.70,193.38 L175.03,193.53 L175.35,193.69 L175.68,193.84 L176.01,193.98 L176.33,194.12 L176.66,194.25 L176.99,194.38 L177.31,194.50 L177.64,194.61 L177.97,194.72 L178.29,194.81 L178.62,194.90 L178.95,194.99 L179.27,195.06 L179.60,195.12 L179.93,195.18 L180.25,195.22 L180.58,195.26 L180.91,195.28 L181.23,195.30 L181.56,195.31 L181.89,195.31 L182.21,195.30 L182.54,195.28 L182.87,195.26 L183.19,195.24 L183.52,195.21 L183.85,195.17 L184.17,195.14 L184.50,195.09 L184.83,195.05 L185.15,194.99 L185.48,194.93 L185.81,194.84 L186.13,194.73 L186.46,194.60 L186.79,194.45 L187.11,194.28 L187.44,194.09 L187.77,193.89 L188.09,193.68 L188.42,193.45 L188.75,193.21 L189.07,192.97 L189.40,192.73 L189.73,192.48 L190.05,192.22 L190.38,191.97 L190.71,191.72 L191.03,191.48 L191.36,191.24 L191.69,191.01 L192.01,190.79 L192.34,190.59 L192.67,190.39 L192.99,190.22 L193.32,190.06 L193.65,189.92 L193.97,189.80 L194.30,189.71 L194.63,189.64 L194.95,189.61 L195.28,189.61 L195.61,189.67 L195.93,189.80 L196.26,190.02 L196.59,190.33 L196.91,190.71 L197.24,191.16 L197.57,191.68 L197.89,192.24 L198.22,192.84 L198.55,193.46 L198.87,194.09 L199.20,194.73 L199.53,195.36 L199.85,195.96 L200.18,196.54 L200.51,197.07 L200.83,197.55 L201.16,197.98 L201.49,198.38 L201.81,198.75 L202.14,199.11 L202.47,199.48 L202.79,199.84 L203.12,200.20 L203.45,200.56 L203.77,200.91 L204.10,201.26 L204.43,201.60 L204.75,201.93 L205.08,202.26 L205.41,202.57 L205.73,202.87 L206.06,203.15 L206.39,203.42 L206.71,203.67 L207.04,203.90 L207.37,204.11 L207.69,204.30 L208.02,204.46 L208.35,204.60 L208.67,204.72 L209.00,204.82 L209.33,204.91 L209.65,204.99 L209.98,205.06 L210.31,205.14 L210.63,205.21 L210.96,205.28 L211.29,205.34 L211.61,205.41 L211.94,205.47 L212.27,205.52 L212.59,205.57 L212.92,205.62 L213.25,205.66 L213.57,205.70 L213.90,205.73 L214.23,205.76 L214.55,205.78 L214.88,205.80 L215.21,205.81 L215.53,205.82 L215.86,205.83 L216.19,205.84 L216.51,205.85 L216.84,205.86 L217.17,205.87 L217.49,205.88 L217.82,205.89 L218.15,205.90 L218.47,205.91 L218.80,205.92 L219.13,205.92 L219.45,205.93 L219.78,205.94 L220.11,205.95 L220.43,205.96 L220.76,205.97 L221.09,205.98 L221.41,205.99 L221.74,206.00 L222.07,206.00 L222.39,206.01 L222.72,206.02 L223.05,206.03 L223.37,206.03 L223.70,206.04 L224.03,206.05 L224.35,206.05 L224.68,206.06 L225.01,206.06 L225.33,206.07 L225.66,206.07 L225.99,206.07 L226.31,206.07 L226.64,206.08 L226.97,206.08 L227.29,206.08 L227.62,206.08 L227.95,206.08 L228.27,206.08 L228.60,206.08 L228.93,206.08 L229.25,206.09 L229.58,206.09 L229.91,206.09 L230.23,206.09 L230.56,206.09 L230.89,206.09 L231.21,206.09 L231.54,206.09 L231.87,206.09 L232.19,206.10 L232.52,206.10 L232.85,206.10 L233.17,206.10 L233.50,206.10 L233.83,206.10 L234.15,206.10 L234.48,206.10 L234.81,206.10 L235.13,206.10 L235.46,206.11 L235.79,206.11 L236.11,206.11 L236.44,206.11 L236.77,206.11 L237.09,206.11 L237.42,206.11 L237.75,206.11 L238.07,206.11 L238.40,206.11 L238.73,206.11 L239.05,206.11 L239.38,206.11 L239.71,206.12 L240.03,206.12 L240.36,206.12 L240.69,206.12 L241.01,206.12 L241.34,206.12 L241.67,206.12 L241.99,206.12 L242.32,206.12 L242.65,206.12 L242.97,206.12 L243.30,206.12 L243.63,206.12 L243.95,206.12 L244.28,206.12 L244.61,206.12 L244.93,206.12 L245.26,206.12 L245.59,206.12 L245.91,206.11 L246.24,206.11 L246.57,206.11 L246.89,206.11 L247.22,206.11 L247.55,206.11 L247.87,206.11 L248.20,206.11 L248.53,206.11 L248.85,206.11 L249.18,206.10 L249.51,206.10 L249.83,206.10 L250.16,206.10 L250.49,206.10 L250.81,206.09 L251.14,206.09 L251.47,206.09 L251.79,206.09 L252.12,206.09 L252.45,206.08 L252.77,206.08 L253.10,206.08"/>
<path stroke="#c0be4e" d="M57.10,105.37 L57.43,105.44 L57.75,105.44 L58.08,105.39 L58.41,105.27 L58.73,105.10 L59.06,104.88 L59.39,104.60 L59.71,104.29 L60.04,103.94 L60.37,103.56 L60.69,103.16 L61.02,102.75 L61.35,102.33 L61.67,101.91 L62.00,101.50 L62.33,101.07 L62.65,100.63 L62.98,100.18 L63.31,99.71 L63.63,99.22 L63.96,98.74 L64.29,98.25 L64.61,97.77 L64.94,97.31 L65.27,96.87 L65.59,96.46 L65.92,96.08 L66.25,95.75 L66.57,95.45 L66.90,95.19 L67.23,94.95 L67.55,94.74 L67.88,94.55 L68.21,94.38 L68.53,94.23 L68.86,94.09 L69.19,93.98 L69.51,93.88 L69.84,93.80 L70.17,93.74 L70.49,93.70 L70.82,93.68 L71.15,93.69 L71.47,93.71 L71.80,93.77 L72.13,93.85 L72.45,93.95 L72.78,94.09 L73.11,94.24 L73.43,94.41 L73.76,94.60 L74.09,94.81 L74.41,95.03 L74.74,95.26 L75.07,95.49 L75.39,95.74 L75.72,96.00 L76.05,96.28 L76.37,96.59 L76.70,96.94 L77.03,97.32 L77.35,97.74 L77.68,98.20 L78.01,98.69 L78.33,99.20 L78.66,99.74 L78.99,100.31 L79.31,100.89 L79.64,101.50 L79.97,102.12 L80.29,102.77 L80.62,103.45 L80.95,104.18 L81.27,104.95 L81.60,105.78 L81.93,106.64 L82.25,107.52 L82.58,108.42 L82.91,109.33 L83.23,110.22 L83.56,111.10 L83.89,111.95 L84.21,112.78 L84.54,113.58 L84.87,114.36 L85.19,115.13 L85.52,115.88 L85.85,116.61 L86.17,117.33 L86.50,118.07 L86.83,117.84 L87.15,117.63 L87.48,117.41 L87.81,117.19 L88.13,116.98 L88.46,116.76 L88.79,116.55 L89.11,116.34 L89.44,116.13 L89.77,115.92 L90.09,115.72 L90.42,115.52 L90.75,115.32 L91.07,115.13 L91.40,114.93 L91.73,114.75 L92.05,114.56 L92.38,114.38 L92.71,114.20 L93.03,114.03 L93.36,113.86 L93.69,113.70 L94.01,113.54 L94.34,113.38 L94.67,113.23 L94.99,113.07 L95.32,112.92 L95.65,112.77 L95.97,112.62 L96.30,112.47 L96.63,112.33 L96.95,112.18 L97.28,112.04 L97.61,111.90 L97.93,111.76 L98.26,111.62 L98.59,111.48 L98.91,111.35 L99.24,111.22 L99.57,111.09 L99.89,110.96 L100.22,110.83 L100.55,110.71 L100.87,110.59 L101.20,110.47 L101.53,110.35 L101.85,110.24 L102.18,110.13 L102.51,110.02 L102.83,109.91 L103.16,109.81 L103.49,109.70 L103.81,109.60 L104.14,109.51 L104.47,109.41 L104.79,109.32 L105.12,109.22 L105.45,109.13 L105.77,109.04 L106.10,108.96 L106.43,108.87 L106.75,108.78 L107.08,108.70 L107.41,108.61 L107.73,108.53 L108.06,108.44 L108.39,108.36 L108.71,108.27 L109.04,108.19 L109.37,108.10 L109.69,108.02 L110.02,107.93 L110.35,107.84 L110.67,107.75 L111.00,107.66 L111.33,107.57 L111.65,107.48 L111.98,107.38 L112.31,107.28 L112.63,107.18 L112.96,107.08 L113.29,106.98 L113.61,106.87 L113.94,106.76 L114.27,106.65 L114.59,106.53 L114.92,106.42 L115.25,106.31 L115.57,106.19 L115.90,106.07 L116.23,105.96 L116.55,105.84 L116.88,105.72 L117.21,105.61 L117.53,105.49 L117.86,105.38 L118.19,105.27 L118.51,105.16 L118.84,105.05 L119.17,104.95 L119.49,104.84 L119.82,104.74 L120.15,104.65 L120.47,104.56 L120.80,104.47 L121.13,104.38 L121.45,104.30 L121.78,104.22 L122.11,104.14 L122.43,104.07 L122.76,104.00 L123.09,103.93 L123.41,103.87 L123.74,103.81 L124.07,103.75 L124.39,103.70 L124.72,103.65 L125.05,103.60 L125.37,103.56 L125.70,103.52 L126.03,103.49 L126.35,103.47 L126.68,103.47 L127.01,103.48 L127.33,103.51 L127.66,103.56 L127.99,103.63 L128.31,103.70 L128.64,103.80 L128.97,103.90 L129.29,104.01 L129.62,104.14 L129.95,104.28 L130.27,104.44 L130.60,104.62 L130.93,104.84 L131.25,105.09 L131.58,105.37 L131.91,105.68 L132.23,106.01 L132.56,106.35 L132.89,106.72 L133.21,107.09 L133.54,107.47 L133.87,107.86 L134.19,108.25 L134.52,108.64 L134.85,109.03 L135.17,109.40 L135.50,109.77 L135.83,110.13 L136.15,110.48 L136.48,110.83 L136.81,111.18 L137.13,111.53 L137.46,111.89 L137.79,112.25 L138.11,112.63 L138.44,113.01 L138.77,113.41 L139.09,113.82 L139.42,114.26 L139.75,114.71 L140.07,115.19 L140.40,115.70 L140.73,116.26 L141.05,116.86 L141.38,117.53 L141.71,118.24 L142.03,119.00 L142.36,119.78 L142.69,120.58 L143.01,121.39 L143.34,122.19 L143.67,122.97 L143.99,123.73 L144.32,124.45 L144.65,125.13 L144.97,125.78 L145.30,126.40 L145.63,127.01 L145.95,127.61 L146.28,128.21 L146.61,128.82 L146.93,129.46 L147.26,130.14 L147.59,130.86 L147.91,131.66 L148.24,132.54 L148.57,133.53 L148.89,134.61 L149.22,135.74 L149.55,136.88 L149.87,138.01 L150.20,139.12 L150.53,140.23 L150.85,141.33 L151.18,142.43 L151.51,143.48 L151.83,144.47 L152.16,145.38 L152.49,146.20 L152.81,146.91 L153.14,147.53 L153.47,148.09 L153.79,148.61 L154.12,149.11 L154.45,149.58 L154.77,150.03 L155.10,150.46 L155.43,150.87 L155.75,151.27 L156.08,151.64 L156.41,151.99 L156.73,152.32 L157.06,152.64 L157.39,152.94 L157.71,153.22 L158.04,153.48 L158.37,153.72 L158.69,153.95 L159.02,154.15 L159.35,154.32 L159.67,154.48 L160.00,154.62 L160.33,154.75 L160.65,154.88 L160.98,155.02 L161.31,155.18 L161.63,155.35 L161.96,155.55 L162.29,155.78 L162.61,156.04 L162.94,156.33 L163.27,156.65 L163.59,157.00 L163.92,157.36 L164.25,157.75 L164.57,158.16 L164.90,158.58 L165.23,159.02 L165.55,159.47 L165.88,159.94 L166.21,160.41 L166.53,160.92 L166.86,161.45 L167.19,162.01 L167.51,162.61 L167.84,163.23 L168.17,163.87 L168.49,164.52 L168.82,165.17 L169.15,165.83 L169.47,166.47 L169.80,167.09 L170.13,167.69 L170.45,168.27 L170.78,168.80 L171.11,169.30 L171.43,169.75 L171.76,170.19 L172.09,170.60 L172.41,171.00 L172.74,171.40 L173.07,171.79 L173.39,172.17 L173.72,172.55 L174.05,172.92 L174.37,173.28 L174.70,173.63 L175.03,173.98 L175.35,174.32 L175.68,174.65 L176.01,174.96 L176.33,175.27 L176.66,175.57 L176.99,175.86 L177.31,176.14 L177.64,176.41 L177.97,176.66 L178.29,176.91 L178.62,177.14 L178.95,177.36 L179.27,177.56 L179.60,177.76 L179.93,177.94 L180.25,178.11 L180.58,178.27 L180.91,178.42 L181.23,178.58 L181.56,178.72 L181.89,178.86 L182.21,179.00 L182.54,179.13 L182.87,179.26 L183.19,179.38 L183.52,179.49 L183.85,179.59 L184.17,179.69 L184.50,179.78 L184.83,179.85 L185.15,179.92 L185.48,179.98 L185.81,180.02 L186.13,180.06 L186.46,180.08 L186.79,180.09 L187.11,180.09 L187.44,180.07 L187.77,180.03 L188.09,179.98 L188.42,179.90 L188.75,179.79 L189.07,179.66 L189.40,179.51 L189.73,179.33 L190.05,179.13 L190.38,178.92 L190.71,178.68 L191.03,178.44 L191.36,178.18 L191.69,177.91 L192.01,177.64 L192.34,177.35 L192.67,177.07 L192.99,176.77 L193.32,176.47 L193.65,176.13 L193.97,175.75 L194.30,175.30 L194.63,174.79 L194.95,174.23 L195.28,173.66 L195.61,173.09 L195.93,172.56 L196.26,172.09 L196.59,171.71 L196.91,171.45 L197.24,171.33 L197.57,171.35 L197.89,171.53 L198.22,171.83 L198.55,172.25 L198.87,172.74 L199.20,173.30 L199.53,173.89 L199.85,174.49 L200.18,175.08 L200.51,175.68 L200.83,176.28 L201.16,176.90 L201.49,177.55 L201.81,178.21 L202.14,178.89 L202.47,179.57 L202.79,180.25 L203.12,180.94 L203.45,181.61 L203.77,182.26 L204.10,182.90 L204.43,183.51 L204.75,184.09 L205.08,184.63 L205.41,185.15 L205.73,185.64 L206.06,186.11 L206.39,186.56 L206.71,187.00 L207.04,187.42 L207.37,187.84 L207.69,188.25 L208.02,188.66 L208.35,189.07 L208.67,189.48 L209.00,189.89 L209.33,190.30 L209.65,190.70 L209.98,191.09 L210.31,191.46 L210.63,191.81 L210.96,192.14 L211.29,192.45 L211.61,192.74 L211.94,193.02 L212.27,193.29 L212.59,193.55 L212.92,193.80 L213.25,194.04 L213.57,194.26 L213.90,194.48 L214.23,194.67 L214.55,194.86 L214.88,195.02 L215.21,195.18 L215.53,195.32 L215.86,195.46 L216.19,195.59 L216.51,195.72 L216.84,195.84 L217.17,195.96 L217.49,196.08 L217.82,196.19 L218.15,196.31 L218.47,196.42 L218.80,196.52 L219.13,196.62 L219.45,196.72 L219.78,196.82 L220.11,196.91 L220.43,197.00 L220.76,197.09 L221.09,197.18 L221.41,197.27 L221.74,197.35 L222.07,197.43 L222.39,197.52 L222.72,197.60 L223.05,197.68 L223.37,197.76 L223.70,197.84 L224.03,197.92 L224.35,198.00 L224.68,198.08 L225.01,198.16 L225.33,198.23 L225.66,198.31 L225.99,198.38 L226.31,198.46 L226.64,198.53 L226.97,198.61 L227.29,198.68 L227.62,198.76 L227.95,198.83 L228.27,198.91 L228.60,198.99 L228.93,199.07 L229.25,199.14 L229.58,199.22 L229.91,199.30 L230.23,199.37 L230.56,199.45 L230.89,199.52 L231.21,199.60 L231.54,199.67 L231.87,199.75 L232.19,199.82 L232.52,199.89 L232.85,199.97 L233.17,200.04 L233.50,200.11 L233.83,200.17 L234.15,200.24 L234.48,200.31 L234.81,200.37 L235.13,200.43 L235.46,200.49 L235.79,200.55 L236.11,200.61 L236.44,200.66 L236.77,200.71 L237.09,200.77 L237.42,200.81 L237.75,200.86 L238.07,200.91 L238.40,200.96 L238.73,201.00 L239.05,201.05 L239.38,201.09 L239.71,201.14 L240.03,201.19 L240.36,201.23 L240.69,201.27 L241.01,201.32 L241.34,201.36 L241.67,201.41 L241.99,201.45 L242.32,201.49 L242.65,201.53 L242.97,201.57 L243.30,201.61 L243.63,201.65 L243.95,201.69 L244.28,201.73 L244.61,201.77 L244.93,201.81 L245.26,201.84 L245.59,201.88 L245.91,201.91 L246.24,201.95 L246.57,201.98 L246.89,202.01 L247.22,202.04 L247.55,202.08 L247.87,202.11 L248.20,202.13 L248.53,202.16 L248.85,202.19 L249.18,202.22 L249.51,202.24 L249.83,202.27 L250.16,202.29 L250.49,202.31 L250.81,202.33 L251.14,202.35 L251.47,202.37 L251.79,202.39 L252.12,202.41 L252.45,202.42 L252.77,202.44 L253.10,202.45"/>
<path stroke="#b9e626" d="M57.10,115.35 L57.43,115.38 L57.75,115.35 L58.08,115.28 L58.41,115.17 L58.73,115.01 L59.06,114.82 L59.39,114.60 L59.71,114.34 L60.04,114.05 L60.37,113.74 L60.69,113.42 L61.02,113.08 L61.35,112.74 L61.67,112.40 L62.00,112.05 L62.33,111.72 L62.65,111.40 L62.98,111.09 L63.31,110.80 L63.63,110.53 L63.96,110.27 L64.29,110.01 L64.61,109.76 L64.94,109.51 L65.27,109.26 L65.59,109.02 L65.92,108.78 L66.25,108.56 L66.57,108.35 L66.90,108.16 L67.23,107.98 L67.55,107.82 L67.88,107.69 L68.21,107.57 L68.53,107.46 L68.86,107.37 L69.19,107.28 L69.51,107.20 L69.84,107.13 L70.17,107.06 L70.49,107.00 L70.82,106.94 L71.15,106.89 L71.47,106.85 L71.80,106.82 L72.13,106.79 L72.45,106.76 L72.78,106.75 L73.11,106.74 L73.43,106.74 L73.76,106.75 L74.09,106.77 L74.41,106.80 L74.74,106.85 L75.07,106.90 L75.39,106.97 L75.72,107.05 L76.05,107.14 L76.37,107.23 L76.70,107.34 L77.03,107.45 L77.35,107.57 L77.68,107.69 L78.01,107.82 L78.33,107.96 L78.66,108.10 L78.99,108.26 L79.31,108.46 L79.64,108.69 L79.97,108.95 L80.29,109.25 L80.62,109.58 L80.95,109.94 L81.27,110.32 L81.60,110.71 L81.93,111.11 L82.25,111.52 L82.58,111.93 L82.91,112.35 L83.23,112.78 L83.56,113.24 L83.89,113.71 L84.21,114.21 L84.54,114.72 L84.87,115.25 L85.19,115.79 L85.52,116.35 L85.85,116.90 L86.17,117.46 L86.50,118.07 L86.83,118.07 L87.15,118.07 L87.48,118.05 L87.81,118.03 L88.13,118.01 L88.46,117.98 L88.79,117.95 L89.11,117.91 L89.44,117.86 L89.77,117.81 L90.09,117.75 L90.42,117.69 L90.75,117.62 L91.07,117.55 L91.40,117.48 L91.73,117.40 L92.05,117.31 L92.38,117.22 L92.71,117.13 L93.03,117.02 L93.36,116.91 L93.69,116.79 L94.01,116.65 L94.34,116.51 L94.67,116.36 L94.99,116.21 L95.32,116.05 L95.65,115.88 L95.97,115.71 L96.30,115.53 L96.63,115.36 L96.95,115.18 L97.28,115.00 L97.61,114.82 L97.93,114.64 L98.26,114.46 L98.59,114.29 L98.91,114.12 L99.24,113.95 L99.57,113.79 L99.89,113.63 L100.22,113.48 L100.55,113.33 L100.87,113.19 L101.20,113.05 L101.53,112.90 L101.85,112.76 L102.18,112.62 L102.51,112.49 L102.83,112.35 L103.16,112.21 L103.49,112.07 L103.81,111.94 L104.14,111.80 L104.47,111.67 L104.79,111.53 L105.12,111.40 L105.45,111.27 L105.77,111.13 L106.10,111.00 L106.43,110.87 L106.75,110.73 L107.08,110.60 L107.41,110.47 L107.73,110.34 L108.06,110.21 L108.39,110.08 L108.71,109.95 L109.04,109.82 L109.37,109.70 L109.69,109.58 L110.02,109.46 L110.35,109.33 L110.67,109.21 L111.00,109.09 L111.33,108.97 L111.65,108.85 L111.98,108.73 L112.31,108.61 L112.63,108.49 L112.96,108.36 L113.29,108.23 L113.61,108.10 L113.94,107.97 L114.27,107.83 L114.59,107.69 L114.92,107.54 L115.25,107.39 L115.57,107.24 L115.90,107.08 L116.23,106.91 L116.55,106.74 L116.88,106.56 L117.21,106.38 L117.53,106.19 L117.86,106.00 L118.19,105.80 L118.51,105.60 L118.84,105.40 L119.17,105.20 L119.49,104.99 L119.82,104.79 L120.15,104.58 L120.47,104.38 L120.80,104.17 L121.13,103.97 L121.45,103.77 L121.78,103.57 L122.11,103.37 L122.43,103.17 L122.76,102.98 L123.09,102.80 L123.41,102.61 L123.74,102.42 L124.07,102.22 L124.39,102.02 L124.72,101.82 L125.05,101.62 L125.37,101.42 L125.70,101.22 L126.03,101.03 L126.35,100.84 L126.68,100.66 L127.01,100.48 L127.33,100.31 L127.66,100.16 L127.99,100.01 L128.31,99.88 L128.64,99.77 L128.97,99.67 L129.29,99.58 L129.62,99.51 L129.95,99.46 L130.27,99.41 L130.60,99.38 L130.93,99.35 L131.25,99.34 L131.58,99.32 L131.91,99.32 L132.23,99.32 L132.56,99.32 L132.89,99.32 L133.21,99.33 L133.54,99.33 L133.87,99.33 L134.19,99.33 L134.52,99.33 L134.85,99.31 L135.17,99.30 L135.50,99.27 L135.83,99.23 L136.15,99.19 L136.48,99.14 L136.81,99.08 L137.13,99.01 L137.46,98.93 L137.79,98.85 L138.11,98.76 L138.44,98.66 L138.77,98.57 L139.09,98.47 L139.42,98.37 L139.75,98.27 L140.07,98.16 L140.40,98.06 L140.73,97.96 L141.05,97.87 L141.38,97.77 L141.71,97.68 L142.03,97.60 L142.36,97.52 L142.69,97.44 L143.01,97.38 L143.34,97.33 L143.67,97.31 L143.99,97.31 L144.32,97.35 L144.65,97.42 L144.97,97.52 L145.30,97.65 L145.63,97.80 L145.95,97.98 L146.28,98.18 L146.61,98.39 L146.93,98.61 L147.26,98.85 L147.59,99.09 L147.91,99.36 L148.24,99.66 L148.57,100.02 L148.89,100.45 L149.22,100.94 L149.55,101.50 L149.87,102.10 L150.20,102.73 L150.53,103.38 L150.85,104.06 L151.18,104.77 L151.51,105.53 L151.83,106.35 L152.16,107.19 L152.49,108.04 L152.81,108.85 L153.14,109.59 L153.47,110.22 L153.79,110.75 L154.12,111.18 L154.45,111.54 L154.77,111.86 L155.10,112.15 L155.43,112.43 L155.75,112.69 L156.08,112.93 L156.41,113.17 L156.73,113.39 L157.06,113.60 L157.39,113.81 L157.71,114.01 L158.04,114.20 L158.37,114.39 L158.69,114.58 L159.02,114.77 L159.35,114.96 L159.67,115.15 L160.00,115.34 L160.33,115.53 L160.65,115.70 L160.98,115.86 L161.31,116.01 L161.63,116.15 L161.96,116.29 L162.29,116.42 L162.61,116.54 L162.94,116.67 L163.27,116.81 L163.59,116.94 L163.92,117.09 L164.25,117.25 L164.57,117.42 L164.90,117.61 L165.23,117.81 L165.55,118.04 L165.88,118.30 L166.21,118.61 L166.53,118.99 L166.86,119.46 L167.19,120.03 L167.51,120.69 L167.84,121.42 L168.17,122.19 L168.49,122.97 L168.82,123.75 L169.15,124.50 L169.47,125.19 L169.80,125.82 L170.13,126.38 L170.45,126.88 L170.78,127.34 L171.11,127.77 L171.43,128.19 L171.76,128.60 L172.09,129.01 L172.41,129.42 L172.74,129.85 L173.07,130.28 L173.39,130.73 L173.72,131.19 L174.05,131.65 L174.37,132.11 L174.70,132.58 L175.03,133.05 L175.35,133.51 L175.68,133.97 L176.01,134.42 L176.33,134.87 L176.66,135.30 L176.99,135.72 L177.31,136.12 L177.64,136.52 L177.97,136.90 L178.29,137.27 L178.62,137.64 L178.95,138.00 L179.27,138.36 L179.60,138.71 L179.93,139.05 L180.25,139.39 L180.58,139.73 L180.91,140.06 L181.23,140.39 L181.56,140.71 L181.89,141.03 L182.21,141.35 L182.54,141.66 L182.87,141.96 L183.19,142.26 L183.52,142.56 L183.85,142.86 L184.17,143.15 L184.50,143.43 L184.83,143.72 L185.15,144.00 L185.48,144.28 L185.81,144.56 L186.13,144.84 L186.46,145.12 L186.79,145.40 L187.11,145.68 L187.44,145.95 L187.77,146.22 L188.09,146.48 L188.42,146.72 L188.75,146.96 L189.07,147.18 L189.40,147.38 L189.73,147.57 L190.05,147.74 L190.38,147.89 L190.71,148.01 L191.03,148.11 L191.36,148.18 L191.69,148.21 L192.01,148.18 L192.34,148.07 L192.67,147.87 L192.99,147.58 L193.32,147.21 L193.65,146.77 L193.97,146.28 L194.30,145.75 L194.63,145.18 L194.95,144.61 L195.28,144.02 L195.61,143.42 L195.93,142.79 L196.26,142.08 L196.59,141.30 L196.91,140.44 L197.24,139.53 L197.57,138.61 L197.89,137.71 L198.22,136.87 L198.55,136.12 L198.87,135.50 L199.20,135.03 L199.53,134.75 L199.85,134.64 L200.18,134.71 L200.51,134.93 L200.83,135.28 L201.16,135.73 L201.49,136.28 L201.81,136.90 L202.14,137.56 L202.47,138.26 L202.79,138.96 L203.12,139.67 L203.45,140.38 L203.77,141.09 L204.10,141.83 L204.43,142.60 L204.75,143.38 L205.08,144.19 L205.41,145.02 L205.73,145.85 L206.06,146.68 L206.39,147.50 L206.71,148.31 L207.04,149.10 L207.37,149.87 L207.69,150.60 L208.02,151.30 L208.35,151.97 L208.67,152.62 L209.00,153.26 L209.33,153.89 L209.65,154.52 L209.98,155.13 L210.31,155.73 L210.63,156.33 L210.96,156.90 L211.29,157.47 L211.61,158.01 L211.94,158.54 L212.27,159.05 L212.59,159.53 L212.92,159.99 L213.25,160.43 L213.57,160.85 L213.90,161.24 L214.23,161.61 L214.55,161.97 L214.88,162.31 L215.21,162.65 L215.53,162.98 L215.86,163.30 L216.19,163.61 L216.51,163.92 L216.84,164.22 L217.17,164.51 L217.49,164.80 L217.82,165.09 L218.15,165.38 L218.47,165.66 L218.80,165.94 L219.13,166.22 L219.45,166.50 L219.78,166.78 L220.11,167.06 L220.43,167.34 L220.76,167.63 L221.09,167.91 L221.41,168.19 L221.74,168.47 L222.07,168.75 L222.39,169.02 L222.72,169.29 L223.05,169.55 L223.37,169.80 L223.70,170.04 L224.03,170.28 L224.35,170.50 L224.68,170.72 L225.01,170.94 L225.33,171.16 L225.66,171.37 L225.99,171.58 L226.31,171.78 L226.64,171.99 L226.97,172.19 L227.29,172.39 L227.62,172.59 L227.95,172.79 L228.27,172.98 L228.60,173.17 L228.93,173.37 L229.25,173.56 L229.58,173.74 L229.91,173.93 L230.23,174.11 L230.56,174.30 L230.89,174.48 L231.21,174.66 L231.54,174.84 L231.87,175.02 L232.19,175.20 L232.52,175.38 L232.85,175.55 L233.17,175.73 L233.50,175.90 L233.83,176.08 L234.15,176.25 L234.48,176.42 L234.81,176.60 L235.13,176.77 L235.46,176.94 L235.79,177.11 L236.11,177.28 L236.44,177.45 L236.77,177.62 L237.09,177.79 L237.42,177.95 L237.75,178.12 L238.07,178.28 L238.40,178.45 L238.73,178.61 L239.05,178.77 L239.38,178.94 L239.71,179.10 L240.03,179.26 L240.36,179.42 L240.69,179.58 L241.01,179.73 L241.34,179.89 L241.67,180.05 L241.99,180.20 L242.32,180.35 L242.65,180.51 L242.97,180.66 L243.30,180.81 L243.63,180.96 L243.95,181.11 L244.28,181.26 L244.61,181.41 L244.93,181.56 L245.26,181.70 L245.59,181.85 L245.91,182.00 L246.24,182.14 L246.57,182.29 L246.89,182.43 L247.22,182.58 L247.55,182.72 L247.87,182.86 L248.20,183.00 L248.53,183.15 L248.85,183.29 L249.18,183.42 L249.51,183.56 L249.83,183.70 L250.16,183.84 L250.49,183.97 L250.81,184.11 L251.14,184.24 L251.47,184.38 L251.79,184.51 L252.12,184.64 L252.45,184.77 L252.77,184.90 L253.10,185.03"/>
</g>
<rect x="57.1" y="9.2" width="196.0" height="200.3" fill="none" stroke="#000" stroke-width="2.0"/>
<path d="M57.10,209.5 v3.6 M89.77,209.5 v2.2 M122.43,209.5 v3.6 M155.10,209.5 v2.2 M187.77,209.5 v3.6 M220.43,209.5 v2.2 M253.10,209.5 v3.6 M57.1,209.50 h-3.6 M57.1,186.72 h-2.2 M57.1,163.95 h-3.6 M57.1,141.18 h-2.2 M57.1,118.40 h-3.6 M57.1,95.62 h-2.2 M57.1,72.85 h-3.6 M57.1,50.08 h-2.2 M57.1,27.30 h-3.6" stroke="#000" stroke-width="1.6" fill="none"/>
<text x="57.10" y="230.3" font-size="17.6" text-anchor="middle">200</text>
<text x="122.43" y="230.3" font-size="17.6" text-anchor="middle">400</text>
<text x="187.77" y="230.3" font-size="17.6" text-anchor="middle">600</text>
<text x="253.10" y="230.3" font-size="17.6" text-anchor="middle">800</text>
<text x="50.60" y="215.40" font-size="17.6" text-anchor="end">0.0</text>
<text x="50.60" y="169.85" font-size="17.6" text-anchor="end">0.5</text>
<text x="50.60" y="124.30" font-size="17.6" text-anchor="end">1.0</text>
<text x="50.60" y="78.75" font-size="17.6" text-anchor="end">1.5</text>
<text x="50.60" y="33.20" font-size="17.6" text-anchor="end">2.0</text>
<text x="155.90" y="252.6" font-size="17.6" text-anchor="middle">Wavelength (nm)</text>
<text transform="translate(21.10,109.00) rotate(-90)" font-size="17.6" text-anchor="middle">Normalized extinction</text>
<text x="60.800000000000004" y="27.8" font-size="17.6">(A)</text>
<text x="249.4" y="26.4" font-size="17.3" text-anchor="end">Ref 60%</text>
<g fill="none" stroke-width="1.85" stroke-linejoin="round" stroke-linecap="round">
<path stroke="#d3955e" d="M334.10,96.30 L334.43,96.53 L334.75,96.68 L335.08,96.77 L335.41,96.79 L335.73,96.75 L336.06,96.65 L336.39,96.47 L336.71,96.20 L337.04,95.84 L337.37,95.40 L337.69,94.88 L338.02,94.28 L338.35,93.62 L338.67,92.89 L339.00,92.12 L339.33,91.29 L339.65,90.43 L339.98,89.55 L340.31,88.64 L340.63,87.72 L340.96,86.79 L341.29,85.87 L341.61,84.96 L341.94,84.07 L342.27,83.21 L342.59,82.38 L342.92,81.60 L343.25,80.86 L343.57,80.19 L343.90,79.58 L344.23,79.05 L344.55,78.60 L344.88,78.24 L345.21,77.97 L345.53,77.81 L345.86,77.73 L346.19,77.74 L346.51,77.83 L346.84,78.00 L347.17,78.23 L347.49,78.53 L347.82,78.89 L348.15,79.31 L348.47,79.78 L348.80,80.30 L349.13,80.86 L349.45,81.45 L349.78,82.09 L350.11,82.75 L350.43,83.44 L350.76,84.15 L351.09,84.88 L351.41,85.63 L351.74,86.38 L352.07,87.13 L352.39,87.89 L352.72,88.64 L353.05,89.39 L353.37,90.12 L353.70,90.85 L354.03,91.59 L354.35,92.33 L354.68,93.08 L355.01,93.85 L355.33,94.64 L355.66,95.45 L355.99,96.27 L356.31,97.10 L356.64,97.95 L356.97,98.82 L357.29,99.70 L357.62,100.59 L357.95,101.50 L358.27,102.42 L358.60,103.35 L358.93,104.30 L359.25,105.25 L359.58,106.22 L359.91,107.20 L360.23,108.19 L360.56,109.19 L360.89,110.19 L361.21,111.21 L361.54,112.23 L361.87,113.27 L362.19,114.30 L362.52,115.34 L362.85,116.38 L363.17,117.41 L363.50,118.53 L363.83,118.23 L364.15,117.95 L364.48,117.68 L364.81,117.40 L365.13,117.13 L365.46,116.85 L365.79,116.59 L366.11,116.32 L366.44,116.06 L366.77,115.81 L367.09,115.56 L367.42,115.32 L367.75,115.08 L368.07,114.85 L368.40,114.62 L368.73,114.41 L369.05,114.20 L369.38,113.99 L369.71,113.79 L370.03,113.60 L370.36,113.40 L370.69,113.21 L371.01,113.01 L371.34,112.82 L371.67,112.63 L371.99,112.44 L372.32,112.25 L372.65,112.07 L372.97,111.90 L373.30,111.72 L373.63,111.56 L373.95,111.40 L374.28,111.24 L374.61,111.09 L374.93,110.95 L375.26,110.82 L375.59,110.69 L375.91,110.58 L376.24,110.47 L376.57,110.37 L376.89,110.27 L377.22,110.18 L377.55,110.09 L377.87,110.00 L378.20,109.91 L378.53,109.82 L378.85,109.74 L379.18,109.66 L379.51,109.58 L379.83,109.50 L380.16,109.43 L380.49,109.36 L380.81,109.30 L381.14,109.24 L381.47,109.19 L381.79,109.14 L382.12,109.10 L382.45,109.06 L382.77,109.03 L383.10,109.00 L383.43,108.98 L383.75,108.96 L384.08,108.95 L384.41,108.93 L384.73,108.92 L385.06,108.91 L385.39,108.90 L385.71,108.89 L386.04,108.88 L386.37,108.88 L386.69,108.88 L387.02,108.88 L387.35,108.88 L387.67,108.89 L388.00,108.90 L388.33,108.92 L388.65,108.93 L388.98,108.95 L389.31,108.98 L389.63,109.00 L389.96,109.04 L390.29,109.07 L390.61,109.12 L390.94,109.16 L391.27,109.21 L391.59,109.26 L391.92,109.32 L392.25,109.38 L392.57,109.44 L392.90,109.51 L393.23,109.58 L393.55,109.64 L393.88,109.71 L394.21,109.78 L394.53,109.86 L394.86,109.93 L395.19,110.00 L395.51,110.07 L395.84,110.14 L396.17,110.21 L396.49,110.28 L396.82,110.35 L397.15,110.41 L397.47,110.48 L397.80,110.55 L398.13,110.62 L398.45,110.69 L398.78,110.76 L399.11,110.84 L399.43,110.92 L399.76,111.01 L400.09,111.09 L400.41,111.19 L400.74,111.28 L401.07,111.38 L401.39,111.49 L401.72,111.61 L402.05,111.73 L402.37,111.85 L402.70,111.99 L403.03,112.14 L403.35,112.33 L403.68,112.58 L404.01,112.90 L404.33,113.30 L404.66,113.77 L404.99,114.31 L405.31,114.89 L405.64,115.51 L405.97,116.15 L406.29,116.80 L406.62,117.44 L406.95,118.08 L407.27,118.73 L407.60,119.39 L407.93,120.08 L408.25,120.78 L408.58,121.50 L408.91,122.20 L409.23,122.90 L409.56,123.58 L409.89,124.23 L410.21,124.84 L410.54,125.42 L410.87,125.98 L411.19,126.52 L411.52,127.05 L411.85,127.57 L412.17,128.07 L412.50,128.58 L412.83,129.08 L413.15,129.58 L413.48,130.09 L413.81,130.59 L414.13,131.10 L414.46,131.61 L414.79,132.12 L415.11,132.62 L415.44,133.13 L415.77,133.64 L416.09,134.16 L416.42,134.69 L416.75,135.23 L417.07,135.79 L417.40,136.38 L417.73,137.01 L418.05,137.68 L418.38,138.43 L418.71,139.26 L419.03,140.20 L419.36,141.29 L419.69,142.51 L420.01,143.85 L420.34,145.25 L420.67,146.66 L420.99,148.05 L421.32,149.39 L421.65,150.69 L421.97,151.97 L422.30,153.25 L422.63,154.51 L422.95,155.75 L423.28,156.98 L423.61,158.17 L423.93,159.33 L424.26,160.45 L424.59,161.53 L424.91,162.56 L425.24,163.56 L425.57,164.54 L425.89,165.51 L426.22,166.46 L426.55,167.38 L426.87,168.27 L427.20,169.11 L427.53,169.89 L427.85,170.60 L428.18,171.24 L428.51,171.79 L428.83,172.26 L429.16,172.67 L429.49,173.04 L429.81,173.39 L430.14,173.71 L430.47,174.02 L430.79,174.31 L431.12,174.59 L431.45,174.85 L431.77,175.10 L432.10,175.35 L432.43,175.57 L432.75,175.79 L433.08,176.00 L433.41,176.19 L433.73,176.37 L434.06,176.52 L434.39,176.66 L434.71,176.78 L435.04,176.88 L435.37,176.97 L435.69,177.06 L436.02,177.15 L436.35,177.24 L436.67,177.34 L437.00,177.46 L437.33,177.60 L437.65,177.77 L437.98,177.97 L438.31,178.21 L438.63,178.52 L438.96,178.89 L439.29,179.33 L439.61,179.83 L439.94,180.38 L440.27,180.97 L440.59,181.59 L440.92,182.21 L441.25,182.84 L441.57,183.44 L441.90,184.02 L442.23,184.55 L442.55,185.02 L442.88,185.43 L443.21,185.78 L443.53,186.08 L443.86,186.34 L444.19,186.57 L444.51,186.79 L444.84,186.99 L445.17,187.18 L445.49,187.36 L445.82,187.54 L446.15,187.72 L446.47,187.90 L446.80,188.09 L447.13,188.29 L447.45,188.49 L447.78,188.71 L448.11,188.94 L448.43,189.17 L448.76,189.40 L449.09,189.65 L449.41,189.89 L449.74,190.14 L450.07,190.40 L450.39,190.65 L450.72,190.91 L451.05,191.16 L451.37,191.42 L451.70,191.67 L452.03,191.93 L452.35,192.18 L452.68,192.43 L453.01,192.68 L453.33,192.92 L453.66,193.16 L453.99,193.39 L454.31,193.62 L454.64,193.84 L454.97,194.06 L455.29,194.26 L455.62,194.46 L455.95,194.65 L456.27,194.83 L456.60,194.99 L456.93,195.15 L457.25,195.29 L457.58,195.42 L457.91,195.53 L458.23,195.63 L458.56,195.71 L458.89,195.77 L459.21,195.82 L459.54,195.86 L459.87,195.88 L460.19,195.89 L460.52,195.88 L460.85,195.87 L461.17,195.84 L461.50,195.80 L461.83,195.76 L462.15,195.70 L462.48,195.64 L462.81,195.57 L463.13,195.49 L463.46,195.41 L463.79,195.32 L464.11,195.22 L464.44,195.12 L464.77,195.02 L465.09,194.92 L465.42,194.81 L465.75,194.70 L466.07,194.58 L466.40,194.46 L466.73,194.31 L467.05,194.13 L467.38,193.88 L467.71,193.59 L468.03,193.23 L468.36,192.84 L468.69,192.41 L469.01,191.95 L469.34,191.49 L469.67,191.03 L469.99,190.57 L470.32,190.14 L470.65,189.75 L470.97,189.40 L471.30,189.11 L471.63,188.88 L471.95,188.74 L472.28,188.69 L472.61,188.75 L472.93,188.91 L473.26,189.20 L473.59,189.59 L473.91,190.07 L474.24,190.63 L474.57,191.25 L474.89,191.92 L475.22,192.62 L475.55,193.35 L475.87,194.08 L476.20,194.79 L476.53,195.48 L476.85,196.13 L477.18,196.73 L477.51,197.25 L477.83,197.71 L478.16,198.09 L478.49,198.42 L478.81,198.73 L479.14,199.02 L479.47,199.31 L479.79,199.59 L480.12,199.88 L480.45,200.16 L480.77,200.44 L481.10,200.72 L481.43,200.99 L481.75,201.26 L482.08,201.53 L482.41,201.79 L482.73,202.05 L483.06,202.30 L483.39,202.55 L483.71,202.79 L484.04,203.03 L484.37,203.26 L484.69,203.48 L485.02,203.69 L485.35,203.90 L485.67,204.10 L486.00,204.29 L486.33,204.47 L486.65,204.64 L486.98,204.81 L487.31,204.96 L487.63,205.10 L487.96,205.24 L488.29,205.36 L488.61,205.47 L488.94,205.56 L489.27,205.65 L489.59,205.72 L489.92,205.79 L490.25,205.84 L490.57,205.90 L490.90,205.95 L491.23,206.00 L491.55,206.05 L491.88,206.10 L492.21,206.15 L492.53,206.20 L492.86,206.25 L493.19,206.30 L493.51,206.35 L493.84,206.40 L494.17,206.45 L494.49,206.50 L494.82,206.55 L495.15,206.60 L495.47,206.64 L495.80,206.69 L496.13,206.73 L496.45,206.78 L496.78,206.82 L497.11,206.87 L497.43,206.91 L497.76,206.95 L498.09,206.99 L498.41,207.02 L498.74,207.06 L499.07,207.10 L499.39,207.13 L499.72,207.16 L500.05,207.20 L500.37,207.23 L500.70,207.25 L501.03,207.28 L501.35,207.31 L501.68,207.33 L502.01,207.35 L502.33,207.37 L502.66,207.39 L502.99,207.40 L503.31,207.42 L503.64,207.43 L503.97,207.44 L504.29,207.45 L504.62,207.46 L504.95,207.46 L505.27,207.47 L505.60,207.48 L505.93,207.49 L506.25,207.50 L506.58,207.51 L506.91,207.52 L507.23,207.53 L507.56,207.53 L507.89,207.54 L508.21,207.55 L508.54,207.56 L508.87,207.57 L509.19,207.58 L509.52,207.59 L509.85,207.60 L510.17,207.61 L510.50,207.61 L510.83,207.62 L511.15,207.63 L511.48,207.64 L511.81,207.65 L512.13,207.66 L512.46,207.66 L512.79,207.67 L513.11,207.68 L513.44,207.69 L513.77,207.70 L514.09,207.70 L514.42,207.71 L514.75,207.72 L515.07,207.72 L515.40,207.73 L515.73,207.74 L516.05,207.74 L516.38,207.75 L516.71,207.76 L517.03,207.76 L517.36,207.77 L517.69,207.77 L518.01,207.78 L518.34,207.78 L518.67,207.79 L518.99,207.79 L519.32,207.80 L519.65,207.80 L519.97,207.80 L520.30,207.81 L520.63,207.81 L520.95,207.81 L521.28,207.81 L521.61,207.81 L521.93,207.82 L522.26,207.82 L522.59,207.82 L522.91,207.82 L523.24,207.82 L523.57,207.82 L523.89,207.82 L524.22,207.82 L524.55,207.81 L524.87,207.81 L525.20,207.81 L525.53,207.81 L525.85,207.80 L526.18,207.80 L526.51,207.79 L526.83,207.79 L527.16,207.78 L527.49,207.78 L527.81,207.77 L528.14,207.76 L528.47,207.76 L528.79,207.75 L529.12,207.74 L529.45,207.73 L529.77,207.72 L530.10,207.71"/>
<path stroke="#b06a66" d="M334.10,82.69 L334.43,83.22 L334.75,83.66 L335.08,84.04 L335.41,84.33 L335.73,84.52 L336.06,84.60 L336.39,84.54 L336.71,84.35 L337.04,84.02 L337.37,83.59 L337.69,83.05 L338.02,82.43 L338.35,81.74 L338.67,80.98 L339.00,80.16 L339.33,79.30 L339.65,78.40 L339.98,77.46 L340.31,76.51 L340.63,75.54 L340.96,74.57 L341.29,73.61 L341.61,72.65 L341.94,71.73 L342.27,70.83 L342.59,69.97 L342.92,69.16 L343.25,68.41 L343.57,67.72 L343.90,67.11 L344.23,66.58 L344.55,66.14 L344.88,65.81 L345.21,65.58 L345.53,65.46 L345.86,65.45 L346.19,65.55 L346.51,65.75 L346.84,66.04 L347.17,66.41 L347.49,66.85 L347.82,67.37 L348.15,67.94 L348.47,68.57 L348.80,69.24 L349.13,69.95 L349.45,70.68 L349.78,71.44 L350.11,72.21 L350.43,72.98 L350.76,73.75 L351.09,74.53 L351.41,75.32 L351.74,76.13 L352.07,76.96 L352.39,77.82 L352.72,78.70 L353.05,79.61 L353.37,80.55 L353.70,81.51 L354.03,82.50 L354.35,83.51 L354.68,84.55 L355.01,85.60 L355.33,86.68 L355.66,87.78 L355.99,88.90 L356.31,90.04 L356.64,91.19 L356.97,92.37 L357.29,93.56 L357.62,94.77 L357.95,96.00 L358.27,97.23 L358.60,98.49 L358.93,99.76 L359.25,101.04 L359.58,102.33 L359.91,103.63 L360.23,104.95 L360.56,106.27 L360.89,107.61 L361.21,108.95 L361.54,110.30 L361.87,111.66 L362.19,113.02 L362.52,114.38 L362.85,115.73 L363.17,117.08 L363.50,118.53 L363.83,118.21 L364.15,117.91 L364.48,117.61 L364.81,117.32 L365.13,117.02 L365.46,116.73 L365.79,116.44 L366.11,116.16 L366.44,115.88 L366.77,115.60 L367.09,115.34 L367.42,115.08 L367.75,114.82 L368.07,114.57 L368.40,114.33 L368.73,114.10 L369.05,113.88 L369.38,113.66 L369.71,113.45 L370.03,113.24 L370.36,113.03 L370.69,112.82 L371.01,112.62 L371.34,112.41 L371.67,112.21 L371.99,112.02 L372.32,111.82 L372.65,111.63 L372.97,111.44 L373.30,111.26 L373.63,111.09 L373.95,110.92 L374.28,110.75 L374.61,110.60 L374.93,110.45 L375.26,110.31 L375.59,110.18 L375.91,110.06 L376.24,109.94 L376.57,109.83 L376.89,109.73 L377.22,109.63 L377.55,109.53 L377.87,109.43 L378.20,109.34 L378.53,109.24 L378.85,109.15 L379.18,109.06 L379.51,108.98 L379.83,108.90 L380.16,108.82 L380.49,108.74 L380.81,108.67 L381.14,108.61 L381.47,108.55 L381.79,108.49 L382.12,108.44 L382.45,108.40 L382.77,108.36 L383.10,108.32 L383.43,108.30 L383.75,108.27 L384.08,108.25 L384.41,108.23 L384.73,108.22 L385.06,108.21 L385.39,108.20 L385.71,108.20 L386.04,108.20 L386.37,108.20 L386.69,108.21 L387.02,108.22 L387.35,108.23 L387.67,108.26 L388.00,108.28 L388.33,108.32 L388.65,108.36 L388.98,108.41 L389.31,108.47 L389.63,108.54 L389.96,108.61 L390.29,108.70 L390.61,108.78 L390.94,108.88 L391.27,108.97 L391.59,109.07 L391.92,109.18 L392.25,109.29 L392.57,109.40 L392.90,109.52 L393.23,109.64 L393.55,109.78 L393.88,109.92 L394.21,110.06 L394.53,110.21 L394.86,110.36 L395.19,110.51 L395.51,110.67 L395.84,110.82 L396.17,110.98 L396.49,111.13 L396.82,111.28 L397.15,111.43 L397.47,111.59 L397.80,111.74 L398.13,111.90 L398.45,112.06 L398.78,112.23 L399.11,112.40 L399.43,112.58 L399.76,112.76 L400.09,112.96 L400.41,113.16 L400.74,113.37 L401.07,113.60 L401.39,113.85 L401.72,114.11 L402.05,114.41 L402.37,114.74 L402.70,115.09 L403.03,115.46 L403.35,115.85 L403.68,116.26 L404.01,116.72 L404.33,117.23 L404.66,117.78 L404.99,118.37 L405.31,118.99 L405.64,119.62 L405.97,120.27 L406.29,120.92 L406.62,121.58 L406.95,122.23 L407.27,122.88 L407.60,123.54 L407.93,124.21 L408.25,124.89 L408.58,125.57 L408.91,126.25 L409.23,126.91 L409.56,127.55 L409.89,128.16 L410.21,128.75 L410.54,129.30 L410.87,129.84 L411.19,130.37 L411.52,130.89 L411.85,131.41 L412.17,131.93 L412.50,132.46 L412.83,133.01 L413.15,133.58 L413.48,134.17 L413.81,134.80 L414.13,135.47 L414.46,136.17 L414.79,136.90 L415.11,137.66 L415.44,138.43 L415.77,139.22 L416.09,140.00 L416.42,140.79 L416.75,141.59 L417.07,142.40 L417.40,143.22 L417.73,144.07 L418.05,144.96 L418.38,145.88 L418.71,146.85 L419.03,147.89 L419.36,149.00 L419.69,150.18 L420.01,151.43 L420.34,152.71 L420.67,154.00 L420.99,155.27 L421.32,156.52 L421.65,157.75 L421.97,158.96 L422.30,160.15 L422.63,161.31 L422.95,162.43 L423.28,163.51 L423.61,164.53 L423.93,165.50 L424.26,166.41 L424.59,167.27 L424.91,168.09 L425.24,168.88 L425.57,169.65 L425.89,170.40 L426.22,171.14 L426.55,171.85 L426.87,172.53 L427.20,173.17 L427.53,173.78 L427.85,174.33 L428.18,174.83 L428.51,175.27 L428.83,175.66 L429.16,176.00 L429.49,176.31 L429.81,176.59 L430.14,176.85 L430.47,177.10 L430.79,177.34 L431.12,177.56 L431.45,177.77 L431.77,177.97 L432.10,178.16 L432.43,178.35 L432.75,178.52 L433.08,178.69 L433.41,178.85 L433.73,179.00 L434.06,179.15 L434.39,179.28 L434.71,179.40 L435.04,179.52 L435.37,179.64 L435.69,179.76 L436.02,179.88 L436.35,180.02 L436.67,180.16 L437.00,180.32 L437.33,180.50 L437.65,180.69 L437.98,180.91 L438.31,181.16 L438.63,181.44 L438.96,181.76 L439.29,182.13 L439.61,182.53 L439.94,182.96 L440.27,183.42 L440.59,183.90 L440.92,184.38 L441.25,184.87 L441.57,185.35 L441.90,185.81 L442.23,186.25 L442.55,186.66 L442.88,187.04 L443.21,187.37 L443.53,187.68 L443.86,187.97 L444.19,188.24 L444.51,188.49 L444.84,188.74 L445.17,188.98 L445.49,189.21 L445.82,189.43 L446.15,189.65 L446.47,189.86 L446.80,190.08 L447.13,190.29 L447.45,190.50 L447.78,190.72 L448.11,190.94 L448.43,191.16 L448.76,191.38 L449.09,191.60 L449.41,191.82 L449.74,192.05 L450.07,192.27 L450.39,192.49 L450.72,192.72 L451.05,192.94 L451.37,193.16 L451.70,193.37 L452.03,193.58 L452.35,193.79 L452.68,194.00 L453.01,194.19 L453.33,194.39 L453.66,194.58 L453.99,194.76 L454.31,194.93 L454.64,195.10 L454.97,195.25 L455.29,195.40 L455.62,195.54 L455.95,195.67 L456.27,195.79 L456.60,195.90 L456.93,196.00 L457.25,196.08 L457.58,196.15 L457.91,196.20 L458.23,196.23 L458.56,196.24 L458.89,196.24 L459.21,196.22 L459.54,196.19 L459.87,196.15 L460.19,196.09 L460.52,196.02 L460.85,195.94 L461.17,195.85 L461.50,195.75 L461.83,195.64 L462.15,195.53 L462.48,195.41 L462.81,195.28 L463.13,195.15 L463.46,195.02 L463.79,194.88 L464.11,194.75 L464.44,194.61 L464.77,194.47 L465.09,194.33 L465.42,194.20 L465.75,194.07 L466.07,193.94 L466.40,193.81 L466.73,193.67 L467.05,193.52 L467.38,193.34 L467.71,193.13 L468.03,192.91 L468.36,192.66 L468.69,192.41 L469.01,192.16 L469.34,191.91 L469.67,191.68 L469.99,191.48 L470.32,191.29 L470.65,191.14 L470.97,191.03 L471.30,190.96 L471.63,190.93 L471.95,190.96 L472.28,191.05 L472.61,191.21 L472.93,191.43 L473.26,191.72 L473.59,192.08 L473.91,192.49 L474.24,192.94 L474.57,193.44 L474.89,193.98 L475.22,194.55 L475.55,195.14 L475.87,195.75 L476.20,196.36 L476.53,196.96 L476.85,197.54 L477.18,198.10 L477.51,198.61 L477.83,199.08 L478.16,199.51 L478.49,199.90 L478.81,200.26 L479.14,200.60 L479.47,200.92 L479.79,201.23 L480.12,201.52 L480.45,201.78 L480.77,202.03 L481.10,202.26 L481.43,202.49 L481.75,202.70 L482.08,202.92 L482.41,203.13 L482.73,203.33 L483.06,203.53 L483.39,203.72 L483.71,203.91 L484.04,204.10 L484.37,204.27 L484.69,204.45 L485.02,204.61 L485.35,204.77 L485.67,204.92 L486.00,205.07 L486.33,205.21 L486.65,205.34 L486.98,205.46 L487.31,205.58 L487.63,205.69 L487.96,205.79 L488.29,205.88 L488.61,205.96 L488.94,206.04 L489.27,206.10 L489.59,206.16 L489.92,206.21 L490.25,206.26 L490.57,206.30 L490.90,206.34 L491.23,206.38 L491.55,206.42 L491.88,206.46 L492.21,206.50 L492.53,206.54 L492.86,206.58 L493.19,206.62 L493.51,206.66 L493.84,206.70 L494.17,206.74 L494.49,206.78 L494.82,206.82 L495.15,206.86 L495.47,206.90 L495.80,206.93 L496.13,206.97 L496.45,207.01 L496.78,207.04 L497.11,207.08 L497.43,207.11 L497.76,207.14 L498.09,207.18 L498.41,207.21 L498.74,207.24 L499.07,207.27 L499.39,207.30 L499.72,207.32 L500.05,207.35 L500.37,207.37 L500.70,207.40 L501.03,207.42 L501.35,207.44 L501.68,207.46 L502.01,207.48 L502.33,207.49 L502.66,207.51 L502.99,207.52 L503.31,207.53 L503.64,207.54 L503.97,207.55 L504.29,207.56 L504.62,207.57 L504.95,207.58 L505.27,207.58 L505.60,207.59 L505.93,207.60 L506.25,207.60 L506.58,207.61 L506.91,207.62 L507.23,207.63 L507.56,207.63 L507.89,207.64 L508.21,207.65 L508.54,207.66 L508.87,207.66 L509.19,207.67 L509.52,207.68 L509.85,207.69 L510.17,207.69 L510.50,207.70 L510.83,207.71 L511.15,207.72 L511.48,207.72 L511.81,207.73 L512.13,207.74 L512.46,207.74 L512.79,207.75 L513.11,207.76 L513.44,207.76 L513.77,207.77 L514.09,207.78 L514.42,207.78 L514.75,207.79 L515.07,207.79 L515.40,207.80 L515.73,207.80 L516.05,207.81 L516.38,207.82 L516.71,207.82 L517.03,207.83 L517.36,207.83 L517.69,207.83 L518.01,207.84 L518.34,207.84 L518.67,207.85 L518.99,207.85 L519.32,207.85 L519.65,207.86 L519.97,207.86 L520.30,207.86 L520.63,207.86 L520.95,207.87 L521.28,207.87 L521.61,207.87 L521.93,207.87 L522.26,207.87 L522.59,207.87 L522.91,207.87 L523.24,207.87 L523.57,207.87 L523.89,207.87 L524.22,207.87 L524.55,207.87 L524.87,207.87 L525.20,207.86 L525.53,207.86 L525.85,207.86 L526.18,207.86 L526.51,207.85 L526.83,207.85 L527.16,207.84 L527.49,207.84 L527.81,207.83 L528.14,207.83 L528.47,207.82 L528.79,207.82 L529.12,207.81 L529.45,207.80 L529.77,207.80 L530.10,207.79"/>
<path stroke="#85386a" d="M334.10,74.52 L334.43,75.19 L334.75,75.78 L335.08,76.29 L335.41,76.71 L335.73,77.02 L336.06,77.20 L336.39,77.22 L336.71,77.07 L337.04,76.78 L337.37,76.36 L337.69,75.85 L338.02,75.26 L338.35,74.60 L338.67,73.88 L339.00,73.10 L339.33,72.27 L339.65,71.41 L339.98,70.52 L340.31,69.60 L340.63,68.68 L340.96,67.74 L341.29,66.81 L341.61,65.89 L341.94,64.98 L342.27,64.10 L342.59,63.26 L342.92,62.45 L343.25,61.70 L343.57,61.01 L343.90,60.38 L344.23,59.82 L344.55,59.35 L344.88,58.96 L345.21,58.68 L345.53,58.51 L345.86,58.45 L346.19,58.50 L346.51,58.65 L346.84,58.90 L347.17,59.24 L347.49,59.65 L347.82,60.14 L348.15,60.68 L348.47,61.28 L348.80,61.92 L349.13,62.59 L349.45,63.29 L349.78,64.00 L350.11,64.73 L350.43,65.47 L350.76,66.24 L351.09,67.03 L351.41,67.87 L351.74,68.74 L352.07,69.66 L352.39,70.61 L352.72,71.60 L353.05,72.64 L353.37,73.70 L353.70,74.80 L354.03,75.94 L354.35,77.11 L354.68,78.31 L355.01,79.54 L355.33,80.80 L355.66,82.09 L355.99,83.41 L356.31,84.75 L356.64,86.12 L356.97,87.51 L357.29,88.92 L357.62,90.36 L357.95,91.81 L358.27,93.28 L358.60,94.78 L358.93,96.28 L359.25,97.81 L359.58,99.35 L359.91,100.90 L360.23,102.46 L360.56,104.04 L360.89,105.62 L361.21,107.22 L361.54,108.82 L361.87,110.43 L362.19,112.04 L362.52,113.65 L362.85,115.24 L363.17,116.83 L363.50,118.53 L363.83,118.19 L364.15,117.88 L364.48,117.57 L364.81,117.26 L365.13,116.95 L365.46,116.64 L365.79,116.34 L366.11,116.05 L366.44,115.75 L366.77,115.47 L367.09,115.19 L367.42,114.92 L367.75,114.65 L368.07,114.39 L368.40,114.14 L368.73,113.90 L369.05,113.67 L369.38,113.44 L369.71,113.22 L370.03,113.00 L370.36,112.78 L370.69,112.57 L371.01,112.36 L371.34,112.15 L371.67,111.94 L371.99,111.73 L372.32,111.53 L372.65,111.33 L372.97,111.14 L373.30,110.95 L373.63,110.77 L373.95,110.60 L374.28,110.43 L374.61,110.27 L374.93,110.12 L375.26,109.97 L375.59,109.84 L375.91,109.71 L376.24,109.59 L376.57,109.48 L376.89,109.37 L377.22,109.26 L377.55,109.16 L377.87,109.05 L378.20,108.95 L378.53,108.86 L378.85,108.76 L379.18,108.67 L379.51,108.58 L379.83,108.49 L380.16,108.41 L380.49,108.33 L380.81,108.25 L381.14,108.18 L381.47,108.12 L381.79,108.06 L382.12,108.00 L382.45,107.95 L382.77,107.91 L383.10,107.87 L383.43,107.84 L383.75,107.81 L384.08,107.79 L384.41,107.77 L384.73,107.75 L385.06,107.74 L385.39,107.74 L385.71,107.74 L386.04,107.74 L386.37,107.75 L386.69,107.76 L387.02,107.78 L387.35,107.80 L387.67,107.83 L388.00,107.87 L388.33,107.92 L388.65,107.98 L388.98,108.05 L389.31,108.14 L389.63,108.23 L389.96,108.33 L390.29,108.44 L390.61,108.56 L390.94,108.69 L391.27,108.81 L391.59,108.95 L391.92,109.08 L392.25,109.22 L392.57,109.37 L392.90,109.53 L393.23,109.69 L393.55,109.87 L393.88,110.05 L394.21,110.24 L394.53,110.44 L394.86,110.64 L395.19,110.85 L395.51,111.06 L395.84,111.27 L396.17,111.48 L396.49,111.70 L396.82,111.91 L397.15,112.12 L397.47,112.33 L397.80,112.54 L398.13,112.75 L398.45,112.98 L398.78,113.20 L399.11,113.44 L399.43,113.68 L399.76,113.93 L400.09,114.20 L400.41,114.48 L400.74,114.77 L401.07,115.08 L401.39,115.41 L401.72,115.79 L402.05,116.20 L402.37,116.66 L402.70,117.16 L403.03,117.67 L403.35,118.19 L403.68,118.72 L404.01,119.28 L404.33,119.85 L404.66,120.45 L404.99,121.08 L405.31,121.71 L405.64,122.36 L405.97,123.02 L406.29,123.68 L406.62,124.33 L406.95,124.99 L407.27,125.64 L407.60,126.30 L407.93,126.97 L408.25,127.63 L408.58,128.29 L408.91,128.94 L409.23,129.58 L409.56,130.20 L409.89,130.79 L410.21,131.35 L410.54,131.89 L410.87,132.42 L411.19,132.93 L411.52,133.45 L411.85,133.97 L412.17,134.50 L412.50,135.05 L412.83,135.63 L413.15,136.24 L413.48,136.90 L413.81,137.61 L414.13,138.38 L414.46,139.21 L414.79,140.10 L415.11,141.02 L415.44,141.97 L415.77,142.94 L416.09,143.90 L416.42,144.86 L416.75,145.83 L417.07,146.80 L417.40,147.78 L417.73,148.78 L418.05,149.81 L418.38,150.85 L418.71,151.91 L419.03,153.01 L419.36,154.14 L419.69,155.30 L420.01,156.48 L420.34,157.68 L420.67,158.88 L420.99,160.08 L421.32,161.27 L421.65,162.45 L421.97,163.61 L422.30,164.74 L422.63,165.84 L422.95,166.88 L423.28,167.87 L423.61,168.78 L423.93,169.61 L424.26,170.38 L424.59,171.10 L424.91,171.77 L425.24,172.42 L425.57,173.05 L425.89,173.67 L426.22,174.26 L426.55,174.83 L426.87,175.37 L427.20,175.89 L427.53,176.37 L427.85,176.82 L428.18,177.23 L428.51,177.59 L428.83,177.92 L429.16,178.22 L429.49,178.48 L429.81,178.73 L430.14,178.95 L430.47,179.16 L430.79,179.36 L431.12,179.54 L431.45,179.72 L431.77,179.89 L432.10,180.04 L432.43,180.20 L432.75,180.34 L433.08,180.49 L433.41,180.63 L433.73,180.76 L434.06,180.90 L434.39,181.03 L434.71,181.16 L435.04,181.29 L435.37,181.42 L435.69,181.56 L436.02,181.71 L436.35,181.87 L436.67,182.04 L437.00,182.23 L437.33,182.43 L437.65,182.64 L437.98,182.87 L438.31,183.12 L438.63,183.38 L438.96,183.68 L439.29,183.99 L439.61,184.33 L439.94,184.68 L440.27,185.05 L440.59,185.43 L440.92,185.82 L441.25,186.22 L441.57,186.62 L441.90,187.01 L442.23,187.39 L442.55,187.75 L442.88,188.10 L443.21,188.43 L443.53,188.75 L443.86,189.05 L444.19,189.34 L444.51,189.63 L444.84,189.90 L445.17,190.17 L445.49,190.43 L445.82,190.69 L446.15,190.93 L446.47,191.17 L446.80,191.40 L447.13,191.63 L447.45,191.84 L447.78,192.06 L448.11,192.27 L448.43,192.48 L448.76,192.69 L449.09,192.90 L449.41,193.11 L449.74,193.32 L450.07,193.52 L450.39,193.72 L450.72,193.92 L451.05,194.12 L451.37,194.31 L451.70,194.50 L452.03,194.69 L452.35,194.86 L452.68,195.04 L453.01,195.20 L453.33,195.36 L453.66,195.52 L453.99,195.66 L454.31,195.80 L454.64,195.93 L454.97,196.05 L455.29,196.16 L455.62,196.26 L455.95,196.36 L456.27,196.44 L456.60,196.51 L456.93,196.56 L457.25,196.60 L457.58,196.63 L457.91,196.64 L458.23,196.63 L458.56,196.60 L458.89,196.55 L459.21,196.49 L459.54,196.42 L459.87,196.33 L460.19,196.22 L460.52,196.11 L460.85,195.99 L461.17,195.86 L461.50,195.71 L461.83,195.57 L462.15,195.41 L462.48,195.25 L462.81,195.09 L463.13,194.93 L463.46,194.76 L463.79,194.60 L464.11,194.43 L464.44,194.27 L464.77,194.10 L465.09,193.95 L465.42,193.80 L465.75,193.65 L466.07,193.51 L466.40,193.38 L466.73,193.25 L467.05,193.11 L467.38,192.98 L467.71,192.83 L468.03,192.69 L468.36,192.55 L468.69,192.41 L469.01,192.29 L469.34,192.20 L469.67,192.12 L469.99,192.08 L470.32,192.06 L470.65,192.07 L470.97,192.11 L471.30,192.19 L471.63,192.30 L471.95,192.44 L472.28,192.63 L472.61,192.85 L472.93,193.11 L473.26,193.41 L473.59,193.74 L473.91,194.10 L474.24,194.49 L474.57,194.90 L474.89,195.35 L475.22,195.83 L475.55,196.33 L475.87,196.86 L476.20,197.40 L476.53,197.94 L476.85,198.48 L477.18,199.01 L477.51,199.52 L477.83,200.00 L478.16,200.45 L478.49,200.88 L478.81,201.28 L479.14,201.65 L479.47,202.00 L479.79,202.32 L480.12,202.61 L480.45,202.86 L480.77,203.09 L481.10,203.30 L481.43,203.49 L481.75,203.67 L482.08,203.84 L482.41,204.02 L482.73,204.18 L483.06,204.35 L483.39,204.51 L483.71,204.66 L484.04,204.81 L484.37,204.95 L484.69,205.09 L485.02,205.22 L485.35,205.35 L485.67,205.47 L486.00,205.59 L486.33,205.70 L486.65,205.80 L486.98,205.90 L487.31,205.99 L487.63,206.08 L487.96,206.16 L488.29,206.23 L488.61,206.30 L488.94,206.36 L489.27,206.41 L489.59,206.45 L489.92,206.49 L490.25,206.53 L490.57,206.56 L490.90,206.60 L491.23,206.63 L491.55,206.66 L491.88,206.70 L492.21,206.73 L492.53,206.77 L492.86,206.80 L493.19,206.83 L493.51,206.87 L493.84,206.90 L494.17,206.93 L494.49,206.97 L494.82,207.00 L495.15,207.03 L495.47,207.06 L495.80,207.10 L496.13,207.13 L496.45,207.16 L496.78,207.19 L497.11,207.22 L497.43,207.25 L497.76,207.28 L498.09,207.30 L498.41,207.33 L498.74,207.36 L499.07,207.38 L499.39,207.41 L499.72,207.43 L500.05,207.45 L500.37,207.47 L500.70,207.49 L501.03,207.51 L501.35,207.53 L501.68,207.55 L502.01,207.56 L502.33,207.58 L502.66,207.59 L502.99,207.60 L503.31,207.61 L503.64,207.62 L503.97,207.63 L504.29,207.64 L504.62,207.64 L504.95,207.65 L505.27,207.66 L505.60,207.66 L505.93,207.67 L506.25,207.68 L506.58,207.68 L506.91,207.69 L507.23,207.69 L507.56,207.70 L507.89,207.71 L508.21,207.71 L508.54,207.72 L508.87,207.73 L509.19,207.73 L509.52,207.74 L509.85,207.75 L510.17,207.75 L510.50,207.76 L510.83,207.77 L511.15,207.77 L511.48,207.78 L511.81,207.78 L512.13,207.79 L512.46,207.80 L512.79,207.80 L513.11,207.81 L513.44,207.81 L513.77,207.82 L514.09,207.82 L514.42,207.83 L514.75,207.83 L515.07,207.84 L515.40,207.84 L515.73,207.85 L516.05,207.85 L516.38,207.86 L516.71,207.86 L517.03,207.87 L517.36,207.87 L517.69,207.87 L518.01,207.88 L518.34,207.88 L518.67,207.88 L518.99,207.89 L519.32,207.89 L519.65,207.89 L519.97,207.90 L520.30,207.90 L520.63,207.90 L520.95,207.90 L521.28,207.90 L521.61,207.90 L521.93,207.91 L522.26,207.91 L522.59,207.91 L522.91,207.91 L523.24,207.91 L523.57,207.91 L523.89,207.91 L524.22,207.91 L524.55,207.90 L524.87,207.90 L525.20,207.90 L525.53,207.90 L525.85,207.90 L526.18,207.90 L526.51,207.89 L526.83,207.89 L527.16,207.89 L527.49,207.88 L527.81,207.88 L528.14,207.87 L528.47,207.87 L528.79,207.86 L529.12,207.86 L529.45,207.85 L529.77,207.85 L530.10,207.84"/>
<path stroke="#4f1a4e" d="M334.10,65.45 L334.43,66.00 L334.75,66.47 L335.08,66.90 L335.41,67.25 L335.73,67.50 L336.06,67.66 L336.39,67.69 L336.71,67.58 L337.04,67.36 L337.37,67.04 L337.69,66.65 L338.02,66.20 L338.35,65.70 L338.67,65.14 L339.00,64.55 L339.33,63.92 L339.65,63.26 L339.98,62.58 L340.31,61.87 L340.63,61.16 L340.96,60.44 L341.29,59.73 L341.61,59.01 L341.94,58.31 L342.27,57.63 L342.59,56.98 L342.92,56.35 L343.25,55.76 L343.57,55.21 L343.90,54.70 L344.23,54.25 L344.55,53.87 L344.88,53.54 L345.21,53.30 L345.53,53.13 L345.86,53.04 L346.19,53.04 L346.51,53.12 L346.84,53.28 L347.17,53.51 L347.49,53.80 L347.82,54.16 L348.15,54.57 L348.47,55.04 L348.80,55.56 L349.13,56.11 L349.45,56.71 L349.78,57.34 L350.11,58.01 L350.43,58.73 L350.76,59.52 L351.09,60.40 L351.41,61.38 L351.74,62.44 L352.07,63.59 L352.39,64.80 L352.72,66.07 L353.05,67.38 L353.37,68.72 L353.70,70.07 L354.03,71.43 L354.35,72.78 L354.68,74.10 L355.01,75.42 L355.33,76.72 L355.66,78.02 L355.99,79.35 L356.31,80.70 L356.64,82.09 L356.97,83.53 L357.29,85.01 L357.62,86.53 L357.95,88.09 L358.27,89.69 L358.60,91.32 L358.93,92.97 L359.25,94.66 L359.58,96.37 L359.91,98.11 L360.23,99.88 L360.56,101.66 L360.89,103.47 L361.21,105.30 L361.54,107.14 L361.87,109.01 L362.19,110.88 L362.52,112.76 L362.85,114.63 L363.17,116.51 L363.50,118.53 L363.83,118.18 L364.15,117.85 L364.48,117.52 L364.81,117.20 L365.13,116.88 L365.46,116.55 L365.79,116.24 L366.11,115.93 L366.44,115.62 L366.77,115.32 L367.09,115.03 L367.42,114.74 L367.75,114.47 L368.07,114.20 L368.40,113.93 L368.73,113.68 L369.05,113.44 L369.38,113.20 L369.71,112.97 L370.03,112.75 L370.36,112.52 L370.69,112.30 L371.01,112.08 L371.34,111.86 L371.67,111.64 L371.99,111.43 L372.32,111.22 L372.65,111.02 L372.97,110.82 L373.30,110.62 L373.63,110.44 L373.95,110.26 L374.28,110.08 L374.61,109.92 L374.93,109.76 L375.26,109.61 L375.59,109.47 L375.91,109.34 L376.24,109.21 L376.57,109.09 L376.89,108.98 L377.22,108.87 L377.55,108.76 L377.87,108.65 L378.20,108.55 L378.53,108.44 L378.85,108.34 L379.18,108.24 L379.51,108.15 L379.83,108.06 L380.16,107.97 L380.49,107.88 L380.81,107.80 L381.14,107.73 L381.47,107.66 L381.79,107.59 L382.12,107.53 L382.45,107.48 L382.77,107.43 L383.10,107.39 L383.43,107.35 L383.75,107.32 L384.08,107.29 L384.41,107.27 L384.73,107.25 L385.06,107.25 L385.39,107.24 L385.71,107.24 L386.04,107.25 L386.37,107.26 L386.69,107.28 L387.02,107.31 L387.35,107.34 L387.67,107.38 L388.00,107.43 L388.33,107.49 L388.65,107.57 L388.98,107.67 L389.31,107.78 L389.63,107.90 L389.96,108.03 L390.29,108.17 L390.61,108.33 L390.94,108.48 L391.27,108.64 L391.59,108.81 L391.92,108.98 L392.25,109.16 L392.57,109.34 L392.90,109.53 L393.23,109.74 L393.55,109.96 L393.88,110.19 L394.21,110.44 L394.53,110.69 L394.86,110.95 L395.19,111.22 L395.51,111.49 L395.84,111.76 L396.17,112.03 L396.49,112.30 L396.82,112.57 L397.15,112.84 L397.47,113.12 L397.80,113.39 L398.13,113.67 L398.45,113.95 L398.78,114.25 L399.11,114.55 L399.43,114.86 L399.76,115.19 L400.09,115.53 L400.41,115.89 L400.74,116.26 L401.07,116.66 L401.39,117.09 L401.72,117.58 L402.05,118.12 L402.37,118.73 L402.70,119.37 L403.03,120.03 L403.35,120.70 L403.68,121.36 L404.01,122.01 L404.33,122.66 L404.66,123.32 L404.99,123.98 L405.31,124.64 L405.64,125.30 L405.97,125.96 L406.29,126.63 L406.62,127.29 L406.95,127.95 L407.27,128.61 L407.60,129.26 L407.93,129.92 L408.25,130.56 L408.58,131.20 L408.91,131.83 L409.23,132.44 L409.56,133.03 L409.89,133.60 L410.21,134.14 L410.54,134.66 L410.87,135.17 L411.19,135.68 L411.52,136.19 L411.85,136.71 L412.17,137.26 L412.50,137.83 L412.83,138.44 L413.15,139.10 L413.48,139.82 L413.81,140.62 L414.13,141.50 L414.46,142.47 L414.79,143.52 L415.11,144.62 L415.44,145.76 L415.77,146.92 L416.09,148.08 L416.42,149.23 L416.75,150.37 L417.07,151.52 L417.40,152.67 L417.73,153.83 L418.05,155.00 L418.38,156.17 L418.71,157.34 L419.03,158.50 L419.36,159.65 L419.69,160.78 L420.01,161.90 L420.34,163.01 L420.67,164.12 L420.99,165.24 L421.32,166.37 L421.65,167.49 L421.97,168.60 L422.30,169.67 L422.63,170.69 L422.95,171.65 L423.28,172.53 L423.61,173.32 L423.93,174.02 L424.26,174.63 L424.59,175.20 L424.91,175.72 L425.24,176.22 L425.57,176.70 L425.89,177.16 L426.22,177.60 L426.55,178.02 L426.87,178.42 L427.20,178.79 L427.53,179.15 L427.85,179.48 L428.18,179.79 L428.51,180.08 L428.83,180.35 L429.16,180.59 L429.49,180.82 L429.81,181.02 L430.14,181.20 L430.47,181.37 L430.79,181.52 L431.12,181.67 L431.45,181.81 L431.77,181.93 L432.10,182.06 L432.43,182.18 L432.75,182.29 L433.08,182.41 L433.41,182.53 L433.73,182.65 L434.06,182.77 L434.39,182.90 L434.71,183.03 L435.04,183.17 L435.37,183.33 L435.69,183.49 L436.02,183.67 L436.35,183.86 L436.67,184.06 L437.00,184.27 L437.33,184.50 L437.65,184.73 L437.98,184.97 L438.31,185.22 L438.63,185.47 L438.96,185.73 L439.29,185.99 L439.61,186.26 L439.94,186.52 L440.27,186.80 L440.59,187.08 L440.92,187.37 L441.25,187.67 L441.57,187.98 L441.90,188.29 L442.23,188.60 L442.55,188.92 L442.88,189.25 L443.21,189.57 L443.53,189.89 L443.86,190.21 L444.19,190.53 L444.51,190.85 L444.84,191.16 L445.17,191.46 L445.49,191.75 L445.82,192.04 L446.15,192.31 L446.47,192.57 L446.80,192.82 L447.13,193.06 L447.45,193.28 L447.78,193.49 L448.11,193.70 L448.43,193.90 L448.76,194.10 L449.09,194.29 L449.41,194.49 L449.74,194.68 L450.07,194.86 L450.39,195.04 L450.72,195.22 L451.05,195.39 L451.37,195.55 L451.70,195.71 L452.03,195.87 L452.35,196.01 L452.68,196.15 L453.01,196.29 L453.33,196.41 L453.66,196.53 L453.99,196.64 L454.31,196.74 L454.64,196.83 L454.97,196.91 L455.29,196.98 L455.62,197.04 L455.95,197.09 L456.27,197.13 L456.60,197.15 L456.93,197.17 L457.25,197.17 L457.58,197.15 L457.91,197.11 L458.23,197.05 L458.56,196.98 L458.89,196.89 L459.21,196.78 L459.54,196.66 L459.87,196.52 L460.19,196.37 L460.52,196.21 L460.85,196.04 L461.17,195.86 L461.50,195.68 L461.83,195.48 L462.15,195.29 L462.48,195.09 L462.81,194.89 L463.13,194.69 L463.46,194.48 L463.79,194.29 L464.11,194.09 L464.44,193.90 L464.77,193.71 L465.09,193.53 L465.42,193.36 L465.75,193.20 L466.07,193.05 L466.40,192.91 L466.73,192.79 L467.05,192.68 L467.38,192.59 L467.71,192.51 L468.03,192.45 L468.36,192.42 L468.69,192.41 L469.01,192.44 L469.34,192.50 L469.67,192.59 L469.99,192.72 L470.32,192.88 L470.65,193.06 L470.97,193.28 L471.30,193.51 L471.63,193.76 L471.95,194.03 L472.28,194.31 L472.61,194.60 L472.93,194.90 L473.26,195.21 L473.59,195.52 L473.91,195.83 L474.24,196.14 L474.57,196.47 L474.89,196.82 L475.22,197.20 L475.55,197.61 L475.87,198.05 L476.20,198.52 L476.53,199.00 L476.85,199.49 L477.18,199.99 L477.51,200.49 L477.83,200.98 L478.16,201.46 L478.49,201.93 L478.81,202.37 L479.14,202.78 L479.47,203.15 L479.79,203.49 L480.12,203.78 L480.45,204.02 L480.77,204.23 L481.10,204.40 L481.43,204.55 L481.75,204.70 L482.08,204.84 L482.41,204.97 L482.73,205.10 L483.06,205.22 L483.39,205.35 L483.71,205.46 L484.04,205.57 L484.37,205.68 L484.69,205.78 L485.02,205.88 L485.35,205.97 L485.67,206.06 L486.00,206.15 L486.33,206.23 L486.65,206.30 L486.98,206.37 L487.31,206.44 L487.63,206.50 L487.96,206.55 L488.29,206.61 L488.61,206.65 L488.94,206.70 L489.27,206.73 L489.59,206.77 L489.92,206.80 L490.25,206.82 L490.57,206.85 L490.90,206.87 L491.23,206.90 L491.55,206.93 L491.88,206.95 L492.21,206.98 L492.53,207.01 L492.86,207.03 L493.19,207.06 L493.51,207.09 L493.84,207.11 L494.17,207.14 L494.49,207.17 L494.82,207.19 L495.15,207.22 L495.47,207.24 L495.80,207.27 L496.13,207.30 L496.45,207.32 L496.78,207.35 L497.11,207.37 L497.43,207.39 L497.76,207.42 L498.09,207.44 L498.41,207.46 L498.74,207.48 L499.07,207.50 L499.39,207.52 L499.72,207.54 L500.05,207.56 L500.37,207.58 L500.70,207.60 L501.03,207.61 L501.35,207.63 L501.68,207.64 L502.01,207.65 L502.33,207.67 L502.66,207.68 L502.99,207.69 L503.31,207.70 L503.64,207.70 L503.97,207.71 L504.29,207.72 L504.62,207.72 L504.95,207.73 L505.27,207.73 L505.60,207.74 L505.93,207.74 L506.25,207.75 L506.58,207.76 L506.91,207.76 L507.23,207.77 L507.56,207.77 L507.89,207.78 L508.21,207.78 L508.54,207.79 L508.87,207.80 L509.19,207.80 L509.52,207.81 L509.85,207.81 L510.17,207.82 L510.50,207.82 L510.83,207.83 L511.15,207.83 L511.48,207.84 L511.81,207.84 L512.13,207.85 L512.46,207.85 L512.79,207.86 L513.11,207.86 L513.44,207.87 L513.77,207.87 L514.09,207.88 L514.42,207.88 L514.75,207.88 L515.07,207.89 L515.40,207.89 L515.73,207.90 L516.05,207.90 L516.38,207.90 L516.71,207.91 L517.03,207.91 L517.36,207.91 L517.69,207.92 L518.01,207.92 L518.34,207.92 L518.67,207.93 L518.99,207.93 L519.32,207.93 L519.65,207.93 L519.97,207.94 L520.30,207.94 L520.63,207.94 L520.95,207.94 L521.28,207.94 L521.61,207.94 L521.93,207.94 L522.26,207.94 L522.59,207.95 L522.91,207.95 L523.24,207.95 L523.57,207.95 L523.89,207.95 L524.22,207.94 L524.55,207.94 L524.87,207.94 L525.20,207.94 L525.53,207.94 L525.85,207.94 L526.18,207.94 L526.51,207.93 L526.83,207.93 L527.16,207.93 L527.49,207.93 L527.81,207.92 L528.14,207.92 L528.47,207.92 L528.79,207.91 L529.12,207.91 L529.45,207.90 L529.77,207.90 L530.10,207.89"/>
<path stroke="#c0be4e" d="M334.10,110.36 L334.43,110.50 L334.75,110.57 L335.08,110.59 L335.41,110.54 L335.73,110.45 L336.06,110.31 L336.39,110.10 L336.71,109.84 L337.04,109.51 L337.37,109.13 L337.69,108.69 L338.02,108.19 L338.35,107.65 L338.67,107.06 L339.00,106.42 L339.33,105.75 L339.65,105.05 L339.98,104.32 L340.31,103.56 L340.63,102.78 L340.96,101.99 L341.29,101.19 L341.61,100.38 L341.94,99.57 L342.27,98.76 L342.59,97.95 L342.92,97.16 L343.25,96.38 L343.57,95.62 L343.90,94.88 L344.23,94.17 L344.55,93.49 L344.88,92.85 L345.21,92.25 L345.53,91.70 L345.86,91.20 L346.19,90.74 L346.51,90.35 L346.84,90.01 L347.17,89.73 L347.49,89.51 L347.82,89.34 L348.15,89.23 L348.47,89.16 L348.80,89.14 L349.13,89.17 L349.45,89.25 L349.78,89.37 L350.11,89.53 L350.43,89.74 L350.76,89.99 L351.09,90.28 L351.41,90.61 L351.74,90.98 L352.07,91.38 L352.39,91.82 L352.72,92.29 L353.05,92.79 L353.37,93.33 L353.70,93.90 L354.03,94.49 L354.35,95.11 L354.68,95.76 L355.01,96.43 L355.33,97.13 L355.66,97.85 L355.99,98.59 L356.31,99.35 L356.64,100.13 L356.97,100.92 L357.29,101.73 L357.62,102.56 L357.95,103.40 L358.27,104.25 L358.60,105.12 L358.93,105.99 L359.25,106.87 L359.58,107.76 L359.91,108.65 L360.23,109.55 L360.56,110.46 L360.89,111.36 L361.21,112.27 L361.54,113.17 L361.87,114.07 L362.19,114.97 L362.52,115.86 L362.85,116.74 L363.17,117.61 L363.50,118.53 L363.83,118.37 L364.15,118.22 L364.48,118.07 L364.81,117.92 L365.13,117.77 L365.46,117.62 L365.79,117.47 L366.11,117.32 L366.44,117.17 L366.77,117.03 L367.09,116.88 L367.42,116.74 L367.75,116.60 L368.07,116.46 L368.40,116.32 L368.73,116.18 L369.05,116.04 L369.38,115.91 L369.71,115.78 L370.03,115.65 L370.36,115.52 L370.69,115.39 L371.01,115.26 L371.34,115.14 L371.67,115.02 L371.99,114.90 L372.32,114.78 L372.65,114.67 L372.97,114.56 L373.30,114.45 L373.63,114.34 L373.95,114.23 L374.28,114.13 L374.61,114.03 L374.93,113.93 L375.26,113.83 L375.59,113.74 L375.91,113.65 L376.24,113.56 L376.57,113.47 L376.89,113.38 L377.22,113.29 L377.55,113.20 L377.87,113.12 L378.20,113.03 L378.53,112.95 L378.85,112.87 L379.18,112.78 L379.51,112.70 L379.83,112.62 L380.16,112.54 L380.49,112.45 L380.81,112.37 L381.14,112.29 L381.47,112.20 L381.79,112.12 L382.12,112.04 L382.45,111.95 L382.77,111.86 L383.10,111.78 L383.43,111.69 L383.75,111.60 L384.08,111.51 L384.41,111.41 L384.73,111.32 L385.06,111.22 L385.39,111.12 L385.71,111.02 L386.04,110.92 L386.37,110.81 L386.69,110.71 L387.02,110.60 L387.35,110.49 L387.67,110.37 L388.00,110.26 L388.33,110.15 L388.65,110.03 L388.98,109.91 L389.31,109.79 L389.63,109.67 L389.96,109.55 L390.29,109.43 L390.61,109.31 L390.94,109.19 L391.27,109.06 L391.59,108.94 L391.92,108.82 L392.25,108.69 L392.57,108.57 L392.90,108.44 L393.23,108.31 L393.55,108.19 L393.88,108.06 L394.21,107.94 L394.53,107.81 L394.86,107.68 L395.19,107.56 L395.51,107.43 L395.84,107.31 L396.17,107.18 L396.49,107.04 L396.82,106.90 L397.15,106.74 L397.47,106.58 L397.80,106.41 L398.13,106.23 L398.45,106.05 L398.78,105.87 L399.11,105.69 L399.43,105.52 L399.76,105.35 L400.09,105.19 L400.41,105.05 L400.74,104.91 L401.07,104.79 L401.39,104.69 L401.72,104.60 L402.05,104.55 L402.37,104.52 L402.70,104.52 L403.03,104.59 L403.35,104.71 L403.68,104.90 L404.01,105.15 L404.33,105.45 L404.66,105.80 L404.99,106.19 L405.31,106.60 L405.64,107.04 L405.97,107.49 L406.29,107.94 L406.62,108.39 L406.95,108.82 L407.27,109.23 L407.60,109.61 L407.93,109.97 L408.25,110.31 L408.58,110.63 L408.91,110.95 L409.23,111.26 L409.56,111.58 L409.89,111.89 L410.21,112.20 L410.54,112.51 L410.87,112.82 L411.19,113.13 L411.52,113.44 L411.85,113.75 L412.17,114.05 L412.50,114.35 L412.83,114.64 L413.15,114.94 L413.48,115.23 L413.81,115.54 L414.13,115.85 L414.46,116.17 L414.79,116.51 L415.11,116.88 L415.44,117.26 L415.77,117.68 L416.09,118.15 L416.42,118.69 L416.75,119.30 L417.07,120.00 L417.40,120.75 L417.73,121.55 L418.05,122.38 L418.38,123.22 L418.71,124.04 L419.03,124.84 L419.36,125.63 L419.69,126.40 L420.01,127.17 L420.34,127.97 L420.67,128.82 L420.99,129.73 L421.32,130.75 L421.65,131.88 L421.97,133.13 L422.30,134.47 L422.63,135.87 L422.95,137.28 L423.28,138.64 L423.61,139.95 L423.93,141.19 L424.26,142.39 L424.59,143.56 L424.91,144.71 L425.24,145.84 L425.57,146.94 L425.89,148.01 L426.22,149.06 L426.55,150.07 L426.87,151.06 L427.20,152.05 L427.53,153.03 L427.85,154.01 L428.18,154.99 L428.51,155.96 L428.83,156.89 L429.16,157.77 L429.49,158.58 L429.81,159.31 L430.14,159.94 L430.47,160.46 L430.79,160.89 L431.12,161.23 L431.45,161.52 L431.77,161.77 L432.10,161.99 L432.43,162.19 L432.75,162.38 L433.08,162.55 L433.41,162.72 L433.73,162.89 L434.06,163.05 L434.39,163.23 L434.71,163.41 L435.04,163.60 L435.37,163.81 L435.69,164.03 L436.02,164.25 L436.35,164.47 L436.67,164.69 L437.00,164.91 L437.33,165.14 L437.65,165.37 L437.98,165.61 L438.31,165.85 L438.63,166.11 L438.96,166.39 L439.29,166.68 L439.61,167.00 L439.94,167.34 L440.27,167.73 L440.59,168.18 L440.92,168.70 L441.25,169.30 L441.57,169.97 L441.90,170.70 L442.23,171.48 L442.55,172.29 L442.88,173.12 L443.21,173.95 L443.53,174.77 L443.86,175.57 L444.19,176.33 L444.51,177.04 L444.84,177.69 L445.17,178.30 L445.49,178.87 L445.82,179.42 L446.15,179.96 L446.47,180.49 L446.80,181.02 L447.13,181.53 L447.45,182.04 L447.78,182.52 L448.11,182.99 L448.43,183.44 L448.76,183.86 L449.09,184.26 L449.41,184.62 L449.74,184.96 L450.07,185.26 L450.39,185.53 L450.72,185.77 L451.05,185.99 L451.37,186.18 L451.70,186.37 L452.03,186.54 L452.35,186.71 L452.68,186.86 L453.01,187.02 L453.33,187.16 L453.66,187.30 L453.99,187.44 L454.31,187.56 L454.64,187.69 L454.97,187.81 L455.29,187.93 L455.62,188.05 L455.95,188.17 L456.27,188.29 L456.60,188.41 L456.93,188.53 L457.25,188.65 L457.58,188.77 L457.91,188.89 L458.23,189.00 L458.56,189.12 L458.89,189.23 L459.21,189.34 L459.54,189.45 L459.87,189.56 L460.19,189.66 L460.52,189.75 L460.85,189.85 L461.17,189.93 L461.50,190.02 L461.83,190.09 L462.15,190.16 L462.48,190.23 L462.81,190.28 L463.13,190.33 L463.46,190.38 L463.79,190.41 L464.11,190.44 L464.44,190.45 L464.77,190.44 L465.09,190.40 L465.42,190.32 L465.75,190.19 L466.07,190.02 L466.40,189.80 L466.73,189.54 L467.05,189.25 L467.38,188.93 L467.71,188.58 L468.03,188.22 L468.36,187.83 L468.69,187.43 L469.01,187.03 L469.34,186.62 L469.67,186.21 L469.99,185.81 L470.32,185.41 L470.65,185.03 L470.97,184.67 L471.30,184.33 L471.63,184.02 L471.95,183.74 L472.28,183.50 L472.61,183.30 L472.93,183.15 L473.26,183.05 L473.59,183.02 L473.91,183.07 L474.24,183.20 L474.57,183.41 L474.89,183.68 L475.22,184.02 L475.55,184.40 L475.87,184.82 L476.20,185.26 L476.53,185.73 L476.85,186.20 L477.18,186.70 L477.51,187.23 L477.83,187.81 L478.16,188.45 L478.49,189.13 L478.81,189.84 L479.14,190.58 L479.47,191.34 L479.79,192.09 L480.12,192.83 L480.45,193.54 L480.77,194.22 L481.10,194.84 L481.43,195.41 L481.75,195.91 L482.08,196.36 L482.41,196.76 L482.73,197.15 L483.06,197.52 L483.39,197.88 L483.71,198.23 L484.04,198.58 L484.37,198.92 L484.69,199.25 L485.02,199.56 L485.35,199.87 L485.67,200.17 L486.00,200.46 L486.33,200.73 L486.65,200.99 L486.98,201.24 L487.31,201.48 L487.63,201.71 L487.96,201.92 L488.29,202.11 L488.61,202.29 L488.94,202.46 L489.27,202.61 L489.59,202.75 L489.92,202.87 L490.25,202.98 L490.57,203.09 L490.90,203.20 L491.23,203.31 L491.55,203.42 L491.88,203.52 L492.21,203.63 L492.53,203.74 L492.86,203.84 L493.19,203.95 L493.51,204.05 L493.84,204.16 L494.17,204.26 L494.49,204.36 L494.82,204.46 L495.15,204.56 L495.47,204.66 L495.80,204.75 L496.13,204.84 L496.45,204.93 L496.78,205.02 L497.11,205.11 L497.43,205.19 L497.76,205.27 L498.09,205.35 L498.41,205.42 L498.74,205.49 L499.07,205.56 L499.39,205.62 L499.72,205.68 L500.05,205.74 L500.37,205.79 L500.70,205.84 L501.03,205.88 L501.35,205.92 L501.68,205.95 L502.01,205.98 L502.33,206.01 L502.66,206.04 L502.99,206.07 L503.31,206.10 L503.64,206.12 L503.97,206.15 L504.29,206.18 L504.62,206.21 L504.95,206.24 L505.27,206.26 L505.60,206.29 L505.93,206.32 L506.25,206.35 L506.58,206.38 L506.91,206.41 L507.23,206.43 L507.56,206.46 L507.89,206.49 L508.21,206.52 L508.54,206.55 L508.87,206.58 L509.19,206.60 L509.52,206.63 L509.85,206.66 L510.17,206.69 L510.50,206.72 L510.83,206.74 L511.15,206.77 L511.48,206.80 L511.81,206.82 L512.13,206.85 L512.46,206.88 L512.79,206.91 L513.11,206.93 L513.44,206.96 L513.77,206.98 L514.09,207.01 L514.42,207.03 L514.75,207.06 L515.07,207.08 L515.40,207.11 L515.73,207.13 L516.05,207.16 L516.38,207.18 L516.71,207.20 L517.03,207.23 L517.36,207.25 L517.69,207.27 L518.01,207.29 L518.34,207.31 L518.67,207.34 L518.99,207.36 L519.32,207.38 L519.65,207.40 L519.97,207.42 L520.30,207.43 L520.63,207.45 L520.95,207.47 L521.28,207.49 L521.61,207.50 L521.93,207.52 L522.26,207.54 L522.59,207.55 L522.91,207.57 L523.24,207.58 L523.57,207.59 L523.89,207.61 L524.22,207.62 L524.55,207.63 L524.87,207.64 L525.20,207.65 L525.53,207.66 L525.85,207.67 L526.18,207.68 L526.51,207.69 L526.83,207.70 L527.16,207.70 L527.49,207.71 L527.81,207.71 L528.14,207.72 L528.47,207.72 L528.79,207.72 L529.12,207.72 L529.45,207.72 L529.77,207.72 L530.10,207.71"/>
<path stroke="#b9e626" d="M334.10,107.19 L334.43,106.69 L334.75,106.23 L335.08,105.77 L335.41,105.31 L335.73,104.86 L336.06,104.41 L336.39,103.97 L336.71,103.53 L337.04,103.10 L337.37,102.68 L337.69,102.27 L338.02,101.86 L338.35,101.47 L338.67,101.08 L339.00,100.70 L339.33,100.34 L339.65,99.98 L339.98,99.63 L340.31,99.30 L340.63,98.98 L340.96,98.67 L341.29,98.37 L341.61,98.09 L341.94,97.82 L342.27,97.57 L342.59,97.33 L342.92,97.10 L343.25,96.89 L343.57,96.70 L343.90,96.52 L344.23,96.36 L344.55,96.21 L344.88,96.08 L345.21,95.97 L345.53,95.88 L345.86,95.81 L346.19,95.76 L346.51,95.73 L346.84,95.71 L347.17,95.72 L347.49,95.75 L347.82,95.80 L348.15,95.87 L348.47,95.97 L348.80,96.09 L349.13,96.23 L349.45,96.40 L349.78,96.59 L350.11,96.80 L350.43,97.04 L350.76,97.30 L351.09,97.58 L351.41,97.88 L351.74,98.20 L352.07,98.54 L352.39,98.90 L352.72,99.27 L353.05,99.67 L353.37,100.08 L353.70,100.51 L354.03,100.96 L354.35,101.42 L354.68,101.89 L355.01,102.39 L355.33,102.89 L355.66,103.41 L355.99,103.94 L356.31,104.49 L356.64,105.04 L356.97,105.61 L357.29,106.19 L357.62,106.78 L357.95,107.38 L358.27,107.99 L358.60,108.61 L358.93,109.23 L359.25,109.86 L359.58,110.50 L359.91,111.15 L360.23,111.80 L360.56,112.46 L360.89,113.12 L361.21,113.79 L361.54,114.46 L361.87,115.13 L362.19,115.81 L362.52,116.48 L362.85,117.15 L363.17,117.81 L363.50,118.53 L363.83,118.37 L364.15,118.22 L364.48,118.07 L364.81,117.93 L365.13,117.78 L365.46,117.63 L365.79,117.49 L366.11,117.34 L366.44,117.20 L366.77,117.06 L367.09,116.92 L367.42,116.79 L367.75,116.65 L368.07,116.52 L368.40,116.38 L368.73,116.25 L369.05,116.13 L369.38,116.00 L369.71,115.88 L370.03,115.75 L370.36,115.63 L370.69,115.51 L371.01,115.39 L371.34,115.27 L371.67,115.15 L371.99,115.03 L372.32,114.91 L372.65,114.80 L372.97,114.68 L373.30,114.56 L373.63,114.45 L373.95,114.33 L374.28,114.22 L374.61,114.11 L374.93,113.99 L375.26,113.88 L375.59,113.77 L375.91,113.66 L376.24,113.55 L376.57,113.44 L376.89,113.33 L377.22,113.22 L377.55,113.11 L377.87,113.00 L378.20,112.89 L378.53,112.78 L378.85,112.67 L379.18,112.56 L379.51,112.46 L379.83,112.35 L380.16,112.24 L380.49,112.13 L380.81,112.03 L381.14,111.92 L381.47,111.82 L381.79,111.71 L382.12,111.61 L382.45,111.51 L382.77,111.41 L383.10,111.31 L383.43,111.21 L383.75,111.11 L384.08,111.01 L384.41,110.92 L384.73,110.82 L385.06,110.72 L385.39,110.63 L385.71,110.53 L386.04,110.43 L386.37,110.33 L386.69,110.23 L387.02,110.14 L387.35,110.04 L387.67,109.93 L388.00,109.83 L388.33,109.73 L388.65,109.62 L388.98,109.52 L389.31,109.41 L389.63,109.30 L389.96,109.19 L390.29,109.08 L390.61,108.96 L390.94,108.84 L391.27,108.72 L391.59,108.60 L391.92,108.48 L392.25,108.35 L392.57,108.22 L392.90,108.09 L393.23,107.97 L393.55,107.83 L393.88,107.70 L394.21,107.57 L394.53,107.44 L394.86,107.30 L395.19,107.17 L395.51,107.03 L395.84,106.89 L396.17,106.74 L396.49,106.58 L396.82,106.41 L397.15,106.23 L397.47,106.04 L397.80,105.85 L398.13,105.65 L398.45,105.45 L398.78,105.26 L399.11,105.07 L399.43,104.89 L399.76,104.72 L400.09,104.56 L400.41,104.42 L400.74,104.30 L401.07,104.20 L401.39,104.12 L401.72,104.07 L402.05,104.05 L402.37,104.07 L402.70,104.13 L403.03,104.22 L403.35,104.35 L403.68,104.52 L404.01,104.71 L404.33,104.92 L404.66,105.15 L404.99,105.40 L405.31,105.65 L405.64,105.91 L405.97,106.17 L406.29,106.43 L406.62,106.67 L406.95,106.91 L407.27,107.12 L407.60,107.32 L407.93,107.49 L408.25,107.65 L408.58,107.78 L408.91,107.91 L409.23,108.03 L409.56,108.14 L409.89,108.25 L410.21,108.36 L410.54,108.46 L410.87,108.57 L411.19,108.67 L411.52,108.76 L411.85,108.86 L412.17,108.96 L412.50,109.06 L412.83,109.16 L413.15,109.27 L413.48,109.37 L413.81,109.48 L414.13,109.59 L414.46,109.70 L414.79,109.80 L415.11,109.91 L415.44,110.02 L415.77,110.13 L416.09,110.25 L416.42,110.37 L416.75,110.50 L417.07,110.65 L417.40,110.80 L417.73,110.97 L418.05,111.15 L418.38,111.37 L418.71,111.65 L419.03,112.01 L419.36,112.50 L419.69,113.10 L420.01,113.83 L420.34,114.65 L420.67,115.55 L420.99,116.50 L421.32,117.48 L421.65,118.46 L421.97,119.44 L422.30,120.40 L422.63,121.36 L422.95,122.32 L423.28,123.31 L423.61,124.34 L423.93,125.39 L424.26,126.47 L424.59,127.56 L424.91,128.66 L425.24,129.75 L425.57,130.83 L425.89,131.89 L426.22,132.91 L426.55,133.90 L426.87,134.83 L427.20,135.70 L427.53,136.51 L427.85,137.24 L428.18,137.90 L428.51,138.50 L428.83,139.06 L429.16,139.58 L429.49,140.08 L429.81,140.55 L430.14,141.01 L430.47,141.45 L430.79,141.88 L431.12,142.28 L431.45,142.68 L431.77,143.06 L432.10,143.42 L432.43,143.78 L432.75,144.12 L433.08,144.46 L433.41,144.79 L433.73,145.10 L434.06,145.42 L434.39,145.72 L434.71,146.03 L435.04,146.32 L435.37,146.62 L435.69,146.90 L436.02,147.17 L436.35,147.43 L436.67,147.68 L437.00,147.92 L437.33,148.15 L437.65,148.38 L437.98,148.61 L438.31,148.84 L438.63,149.08 L438.96,149.33 L439.29,149.58 L439.61,149.86 L439.94,150.15 L440.27,150.45 L440.59,150.78 L440.92,151.13 L441.25,151.50 L441.57,151.89 L441.90,152.30 L442.23,152.73 L442.55,153.17 L442.88,153.63 L443.21,154.11 L443.53,154.61 L443.86,155.12 L444.19,155.64 L444.51,156.19 L444.84,156.75 L445.17,157.34 L445.49,157.98 L445.82,158.67 L446.15,159.40 L446.47,160.17 L446.80,160.98 L447.13,161.81 L447.45,162.65 L447.78,163.49 L448.11,164.32 L448.43,165.12 L448.76,165.89 L449.09,166.62 L449.41,167.30 L449.74,167.93 L450.07,168.53 L450.39,169.11 L450.72,169.68 L451.05,170.23 L451.37,170.77 L451.70,171.30 L452.03,171.81 L452.35,172.30 L452.68,172.77 L453.01,173.21 L453.33,173.62 L453.66,174.00 L453.99,174.35 L454.31,174.66 L454.64,174.94 L454.97,175.18 L455.29,175.40 L455.62,175.61 L455.95,175.81 L456.27,176.01 L456.60,176.21 L456.93,176.40 L457.25,176.60 L457.58,176.78 L457.91,176.97 L458.23,177.15 L458.56,177.32 L458.89,177.49 L459.21,177.66 L459.54,177.82 L459.87,177.97 L460.19,178.12 L460.52,178.26 L460.85,178.39 L461.17,178.52 L461.50,178.63 L461.83,178.74 L462.15,178.84 L462.48,178.93 L462.81,179.02 L463.13,179.09 L463.46,179.15 L463.79,179.20 L464.11,179.24 L464.44,179.27 L464.77,179.28 L465.09,179.29 L465.42,179.28 L465.75,179.26 L466.07,179.22 L466.40,179.17 L466.73,179.10 L467.05,179.01 L467.38,178.90 L467.71,178.77 L468.03,178.62 L468.36,178.45 L468.69,178.26 L469.01,178.06 L469.34,177.84 L469.67,177.61 L469.99,177.37 L470.32,177.13 L470.65,176.88 L470.97,176.63 L471.30,176.36 L471.63,176.06 L471.95,175.72 L472.28,175.33 L472.61,174.91 L472.93,174.48 L473.26,174.06 L473.59,173.69 L473.91,173.38 L474.24,173.18 L474.57,173.11 L474.89,173.17 L475.22,173.37 L475.55,173.69 L475.87,174.10 L476.20,174.59 L476.53,175.12 L476.85,175.68 L477.18,176.25 L477.51,176.85 L477.83,177.48 L478.16,178.15 L478.49,178.85 L478.81,179.59 L479.14,180.35 L479.47,181.12 L479.79,181.90 L480.12,182.68 L480.45,183.44 L480.77,184.18 L481.10,184.89 L481.43,185.57 L481.75,186.20 L482.08,186.81 L482.41,187.38 L482.73,187.95 L483.06,188.49 L483.39,189.02 L483.71,189.54 L484.04,190.04 L484.37,190.51 L484.69,190.96 L485.02,191.38 L485.35,191.76 L485.67,192.12 L486.00,192.44 L486.33,192.74 L486.65,193.03 L486.98,193.30 L487.31,193.57 L487.63,193.82 L487.96,194.07 L488.29,194.30 L488.61,194.51 L488.94,194.72 L489.27,194.91 L489.59,195.08 L489.92,195.24 L490.25,195.39 L490.57,195.54 L490.90,195.68 L491.23,195.83 L491.55,195.97 L491.88,196.12 L492.21,196.26 L492.53,196.40 L492.86,196.55 L493.19,196.69 L493.51,196.83 L493.84,196.97 L494.17,197.11 L494.49,197.25 L494.82,197.38 L495.15,197.52 L495.47,197.65 L495.80,197.78 L496.13,197.91 L496.45,198.04 L496.78,198.16 L497.11,198.28 L497.43,198.40 L497.76,198.52 L498.09,198.63 L498.41,198.74 L498.74,198.85 L499.07,198.96 L499.39,199.06 L499.72,199.15 L500.05,199.25 L500.37,199.34 L500.70,199.42 L501.03,199.50 L501.35,199.58 L501.68,199.65 L502.01,199.72 L502.33,199.79 L502.66,199.86 L502.99,199.92 L503.31,199.98 L503.64,200.04 L503.97,200.10 L504.29,200.16 L504.62,200.22 L504.95,200.27 L505.27,200.33 L505.60,200.38 L505.93,200.44 L506.25,200.49 L506.58,200.55 L506.91,200.60 L507.23,200.65 L507.56,200.70 L507.89,200.75 L508.21,200.80 L508.54,200.85 L508.87,200.90 L509.19,200.95 L509.52,200.99 L509.85,201.04 L510.17,201.09 L510.50,201.14 L510.83,201.18 L511.15,201.23 L511.48,201.28 L511.81,201.32 L512.13,201.37 L512.46,201.42 L512.79,201.46 L513.11,201.51 L513.44,201.56 L513.77,201.61 L514.09,201.65 L514.42,201.70 L514.75,201.75 L515.07,201.79 L515.40,201.84 L515.73,201.89 L516.05,201.93 L516.38,201.98 L516.71,202.03 L517.03,202.07 L517.36,202.12 L517.69,202.17 L518.01,202.21 L518.34,202.26 L518.67,202.31 L518.99,202.35 L519.32,202.40 L519.65,202.44 L519.97,202.49 L520.30,202.53 L520.63,202.58 L520.95,202.63 L521.28,202.67 L521.61,202.72 L521.93,202.76 L522.26,202.80 L522.59,202.85 L522.91,202.89 L523.24,202.94 L523.57,202.98 L523.89,203.02 L524.22,203.07 L524.55,203.11 L524.87,203.15 L525.20,203.20 L525.53,203.24 L525.85,203.28 L526.18,203.32 L526.51,203.37 L526.83,203.41 L527.16,203.45 L527.49,203.49 L527.81,203.53 L528.14,203.57 L528.47,203.61 L528.79,203.65 L529.12,203.69 L529.45,203.73 L529.77,203.77 L530.10,203.81"/>
</g>
<rect x="334.1" y="9.2" width="196.0" height="200.3" fill="none" stroke="#000" stroke-width="2.0"/>
<path d="M334.10,209.5 v3.6 M366.77,209.5 v2.2 M399.43,209.5 v3.6 M432.10,209.5 v2.2 M464.77,209.5 v3.6 M497.43,209.5 v2.2 M530.10,209.5 v3.6 M334.1,209.50 h-3.6 M334.1,186.72 h-2.2 M334.1,163.95 h-3.6 M334.1,141.18 h-2.2 M334.1,118.40 h-3.6 M334.1,95.62 h-2.2 M334.1,72.85 h-3.6 M334.1,50.08 h-2.2 M334.1,27.30 h-3.6" stroke="#000" stroke-width="1.6" fill="none"/>
<text x="334.10" y="230.3" font-size="17.6" text-anchor="middle">200</text>
<text x="399.43" y="230.3" font-size="17.6" text-anchor="middle">400</text>
<text x="464.77" y="230.3" font-size="17.6" text-anchor="middle">600</text>
<text x="530.10" y="230.3" font-size="17.6" text-anchor="middle">800</text>
<text x="327.60" y="215.40" font-size="17.6" text-anchor="end">0.0</text>
<text x="327.60" y="169.85" font-size="17.6" text-anchor="end">0.5</text>
<text x="327.60" y="124.30" font-size="17.6" text-anchor="end">1.0</text>
<text x="327.60" y="78.75" font-size="17.6" text-anchor="end">1.5</text>
<text x="327.60" y="33.20" font-size="17.6" text-anchor="end">2.0</text>
<text x="432.10" y="252.6" font-size="17.6" text-anchor="middle">Wavelength (nm)</text>
<text transform="translate(289.00,107.30) rotate(-90)" font-size="17.6" text-anchor="middle">Normalized extinction</text>
<text x="337.8" y="28.4" font-size="17.6">(B)</text>
<text x="522.9" y="26.6" font-size="17.3" text-anchor="end">NaCl stir 60%</text>

<text x="137.3" y="84.3" font-size="15.6">Large and thick</text>
<text x="61.3" y="198.2" font-size="15.6">Small and thin</text>
<line x1="111.9" y1="173.4" x2="161" y2="114.5" stroke="#000" stroke-width="2"/>
<path d="M170.6,103.1 L153.2,113.2 L159.8,115.6 L163.8,122.2 Z" fill="#000"/>

</svg></body></html>
